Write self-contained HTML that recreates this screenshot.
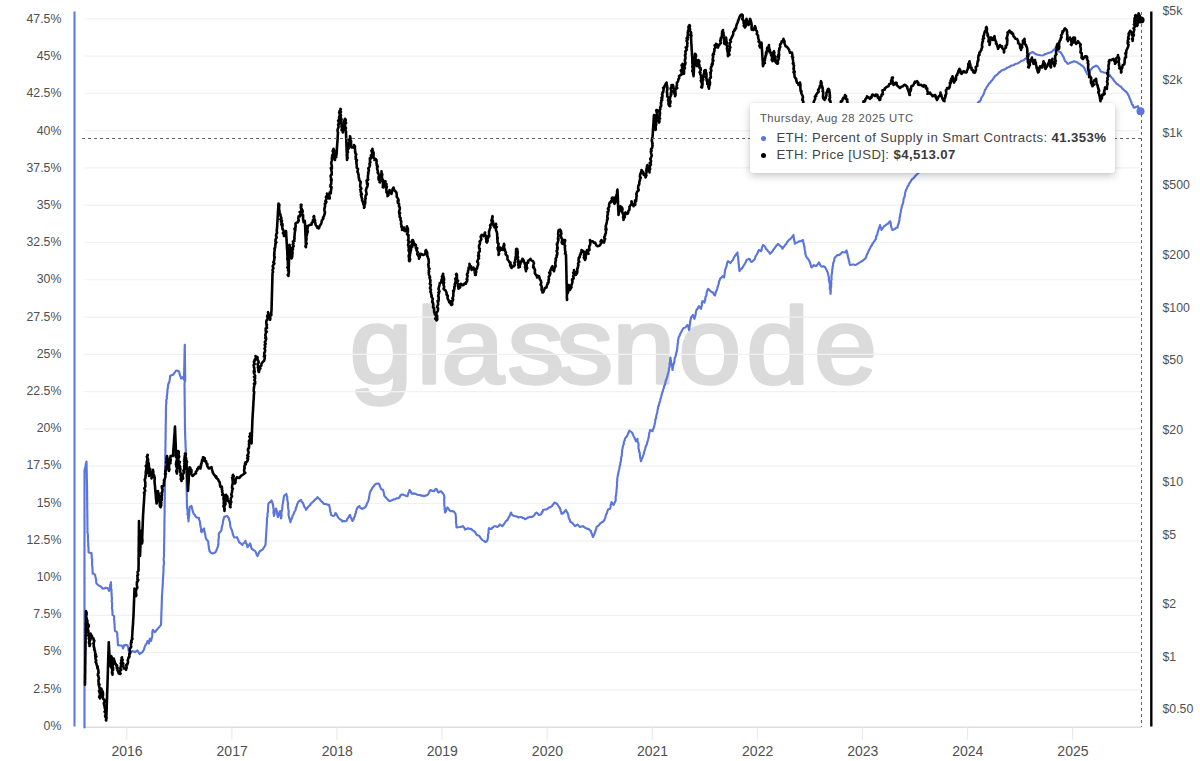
<!DOCTYPE html>
<html lang="en"><head><meta charset="utf-8"><title>ETH: Percent of Supply in Smart Contracts</title>
<style>
html,body{margin:0;padding:0;background:#fff;}
body{width:1200px;height:761px;position:relative;overflow:hidden;font-family:"Liberation Sans",sans-serif;}
svg text.ax{font-family:"Liberation Sans",sans-serif;font-size:12.3px;fill:#4f4f4f;}
.tip{position:absolute;left:750px;top:102.5px;width:364.8px;height:70.5px;background:#fff;border-radius:3px;
 box-shadow:0 3px 9px rgba(0,0,0,.22),0 0 2px rgba(0,0,0,.08);box-sizing:border-box;color:#444;}
.tip .d{position:absolute;left:10px;top:9.5px;font-size:11.3px;line-height:13px;color:#555;white-space:nowrap;letter-spacing:.45px;}
.tip .r{position:absolute;left:26.4px;font-size:13.2px;line-height:16px;white-space:nowrap;color:#444;letter-spacing:.4px;}
.tip .r b{font-weight:700;color:#3a3a3a;}
.tip .r1{top:27.2px;} .tip .r2{top:44.3px;}
.tip i{position:absolute;left:10.5px;width:5px;height:5px;border-radius:50%;}
.tip i.b1{top:33px;background:#5a75dc;} .tip i.b2{top:50.5px;background:#000;}
</style></head><body>
<svg width="1200" height="761" viewBox="0 0 1200 761" style="position:absolute;left:0;top:0">
<text transform="scale(1.05,1)" x="333.0 396.9 420.4 483.6 530.2 583.3 646.1 711.0 775.6" y="383.3" font-family="Liberation Sans, sans-serif" font-weight="400" font-size="107" fill="#dbdbdb" stroke="#dbdbdb" stroke-width="3.6" stroke-linejoin="round">glassnode</text>
<line x1="84.5" x2="1141.0" y1="727.25" y2="727.25" stroke="#f1f1f1" stroke-width="1.2"/>
<line x1="84.5" x2="1141.0" y1="689.96" y2="689.96" stroke="#f1f1f1" stroke-width="1.2"/>
<line x1="84.5" x2="1141.0" y1="652.67" y2="652.67" stroke="#f1f1f1" stroke-width="1.2"/>
<line x1="84.5" x2="1141.0" y1="615.38" y2="615.38" stroke="#f1f1f1" stroke-width="1.2"/>
<line x1="84.5" x2="1141.0" y1="578.09" y2="578.09" stroke="#f1f1f1" stroke-width="1.2"/>
<line x1="84.5" x2="1141.0" y1="540.80" y2="540.80" stroke="#f1f1f1" stroke-width="1.2"/>
<line x1="84.5" x2="1141.0" y1="503.51" y2="503.51" stroke="#f1f1f1" stroke-width="1.2"/>
<line x1="84.5" x2="1141.0" y1="466.22" y2="466.22" stroke="#f1f1f1" stroke-width="1.2"/>
<line x1="84.5" x2="1141.0" y1="428.93" y2="428.93" stroke="#f1f1f1" stroke-width="1.2"/>
<line x1="84.5" x2="1141.0" y1="391.64" y2="391.64" stroke="#f1f1f1" stroke-width="1.2"/>
<line x1="84.5" x2="1141.0" y1="354.35" y2="354.35" stroke="#f1f1f1" stroke-width="1.2"/>
<line x1="84.5" x2="1141.0" y1="317.06" y2="317.06" stroke="#f1f1f1" stroke-width="1.2"/>
<line x1="84.5" x2="1141.0" y1="279.77" y2="279.77" stroke="#f1f1f1" stroke-width="1.2"/>
<line x1="84.5" x2="1141.0" y1="242.48" y2="242.48" stroke="#f1f1f1" stroke-width="1.2"/>
<line x1="84.5" x2="1141.0" y1="205.19" y2="205.19" stroke="#f1f1f1" stroke-width="1.2"/>
<line x1="84.5" x2="1141.0" y1="167.90" y2="167.90" stroke="#f1f1f1" stroke-width="1.2"/>
<line x1="84.5" x2="1141.0" y1="130.61" y2="130.61" stroke="#f1f1f1" stroke-width="1.2"/>
<line x1="84.5" x2="1141.0" y1="93.32" y2="93.32" stroke="#f1f1f1" stroke-width="1.2"/>
<line x1="84.5" x2="1141.0" y1="56.03" y2="56.03" stroke="#f1f1f1" stroke-width="1.2"/>
<line x1="84.5" x2="1141.0" y1="18.74" y2="18.74" stroke="#f1f1f1" stroke-width="1.2"/>
<line x1="84.5" x2="1141.0" y1="727.25" y2="727.25" stroke="#dedede" stroke-width="1.5"/>
<line x1="126.75" x2="126.75" y1="727.25" y2="739.75" stroke="#ebebeb" stroke-width="1.2"/>
<text x="127.05" y="756" text-anchor="middle" class="ax" style="font-size:14px">2016</text>
<line x1="231.85" x2="231.85" y1="727.25" y2="739.75" stroke="#ebebeb" stroke-width="1.2"/>
<text x="232.15" y="756" text-anchor="middle" class="ax" style="font-size:14px">2017</text>
<line x1="336.95" x2="336.95" y1="727.25" y2="739.75" stroke="#ebebeb" stroke-width="1.2"/>
<text x="337.25" y="756" text-anchor="middle" class="ax" style="font-size:14px">2018</text>
<line x1="442.05" x2="442.05" y1="727.25" y2="739.75" stroke="#ebebeb" stroke-width="1.2"/>
<text x="442.35" y="756" text-anchor="middle" class="ax" style="font-size:14px">2019</text>
<line x1="547.15" x2="547.15" y1="727.25" y2="739.75" stroke="#ebebeb" stroke-width="1.2"/>
<text x="547.45" y="756" text-anchor="middle" class="ax" style="font-size:14px">2020</text>
<line x1="652.25" x2="652.25" y1="727.25" y2="739.75" stroke="#ebebeb" stroke-width="1.2"/>
<text x="652.55" y="756" text-anchor="middle" class="ax" style="font-size:14px">2021</text>
<line x1="757.35" x2="757.35" y1="727.25" y2="739.75" stroke="#ebebeb" stroke-width="1.2"/>
<text x="757.65" y="756" text-anchor="middle" class="ax" style="font-size:14px">2022</text>
<line x1="862.45" x2="862.45" y1="727.25" y2="739.75" stroke="#ebebeb" stroke-width="1.2"/>
<text x="862.75" y="756" text-anchor="middle" class="ax" style="font-size:14px">2023</text>
<line x1="967.55" x2="967.55" y1="727.25" y2="739.75" stroke="#ebebeb" stroke-width="1.2"/>
<text x="967.85" y="756" text-anchor="middle" class="ax" style="font-size:14px">2024</text>
<line x1="1072.65" x2="1072.65" y1="727.25" y2="739.75" stroke="#ebebeb" stroke-width="1.2"/>
<text x="1072.95" y="756" text-anchor="middle" class="ax" style="font-size:14px">2025</text>
<line x1="74.5" x2="74.5" y1="11.5" y2="726.5" stroke="#5a75dc" stroke-width="2"/>
<text x="61.4" y="729.80" text-anchor="end" class="ax">0%</text>
<text x="61.4" y="692.60" text-anchor="end" class="ax">2.5%</text>
<text x="61.4" y="655.40" text-anchor="end" class="ax">5%</text>
<text x="61.4" y="618.20" text-anchor="end" class="ax">7.5%</text>
<text x="61.4" y="581.00" text-anchor="end" class="ax">10%</text>
<text x="61.4" y="543.80" text-anchor="end" class="ax">12.5%</text>
<text x="61.4" y="506.60" text-anchor="end" class="ax">15%</text>
<text x="61.4" y="469.40" text-anchor="end" class="ax">17.5%</text>
<text x="61.4" y="432.20" text-anchor="end" class="ax">20%</text>
<text x="61.4" y="395.00" text-anchor="end" class="ax">22.5%</text>
<text x="61.4" y="357.80" text-anchor="end" class="ax">25%</text>
<text x="61.4" y="320.60" text-anchor="end" class="ax">27.5%</text>
<text x="61.4" y="283.40" text-anchor="end" class="ax">30%</text>
<text x="61.4" y="246.20" text-anchor="end" class="ax">32.5%</text>
<text x="61.4" y="209.00" text-anchor="end" class="ax">35%</text>
<text x="61.4" y="171.80" text-anchor="end" class="ax">37.5%</text>
<text x="61.4" y="134.60" text-anchor="end" class="ax">40%</text>
<text x="61.4" y="97.40" text-anchor="end" class="ax">42.5%</text>
<text x="61.4" y="60.20" text-anchor="end" class="ax">45%</text>
<text x="61.4" y="23.00" text-anchor="end" class="ax">47.5%</text>
<line x1="1151.3" x2="1151.3" y1="11.5" y2="726.5" stroke="#000" stroke-width="2.4"/>
<text x="1162.5" y="14.86" class="ax">$5k</text>
<text x="1162.5" y="84.34" class="ax">$2k</text>
<text x="1162.5" y="136.90" class="ax">$1k</text>
<text x="1162.5" y="189.46" class="ax">$500</text>
<text x="1162.5" y="258.94" class="ax">$200</text>
<text x="1162.5" y="311.50" class="ax">$100</text>
<text x="1162.5" y="364.06" class="ax">$50</text>
<text x="1162.5" y="433.54" class="ax">$20</text>
<text x="1162.5" y="486.10" class="ax">$10</text>
<text x="1162.5" y="538.66" class="ax">$5</text>
<text x="1162.5" y="608.14" class="ax">$2</text>
<text x="1162.5" y="660.70" class="ax">$1</text>
<text x="1162.5" y="713.26" class="ax">$0.50</text>
<path d="M84.5,727.5 L84.5,725.9 L84.5,724.3 L84.5,722.7 L84.5,721.1 L84.5,719.5 L84.5,717.9 L84.5,716.3 L84.5,714.7 L84.5,713.1 L84.5,711.5 L84.5,709.9 L84.5,708.3 L84.5,706.7 L84.5,705.1 L84.5,703.5 L84.5,701.9 L84.5,700.2 L84.5,698.6 L84.5,697.0 L84.5,695.4 L84.5,693.8 L84.5,692.2 L84.5,690.6 L84.5,689.0 L84.5,687.4 L84.5,685.8 L84.5,684.2 L84.5,682.6 L84.5,681.0 L84.5,679.4 L84.5,677.8 L84.5,676.2 L84.5,674.6 L84.5,673.0 L84.5,671.4 L84.5,669.8 L84.5,668.2 L84.5,666.6 L84.5,665.0 L84.5,663.4 L84.5,661.8 L84.5,660.2 L84.5,658.6 L84.5,657.0 L84.5,655.4 L84.5,653.8 L84.5,652.2 L84.5,650.5 L84.5,648.9 L84.5,647.3 L84.5,645.7 L84.5,644.1 L84.5,642.5 L84.5,640.9 L84.5,639.3 L84.5,637.7 L84.5,636.1 L84.5,634.5 L84.5,632.9 L84.5,631.3 L84.5,629.7 L84.5,628.1 L84.5,626.5 L84.5,624.9 L84.5,623.3 L84.5,621.7 L84.5,620.1 L84.5,618.5 L84.5,616.9 L84.5,615.3 L84.5,613.7 L84.5,612.1 L84.5,610.5 L84.5,608.9 L84.5,607.3 L84.5,605.7 L84.5,604.1 L84.5,602.5 L84.5,600.9 L84.5,599.2 L84.5,597.6 L84.5,596.0 L84.5,594.4 L84.5,592.8 L84.5,591.2 L84.5,589.6 L84.5,588.0 L84.5,586.4 L84.5,584.8 L84.5,583.2 L84.5,581.6 L84.5,580.0 L84.5,578.4 L84.5,576.8 L84.5,575.2 L84.5,573.6 L84.5,572.0 L84.5,570.4 L84.5,568.8 L84.5,567.2 L84.5,565.6 L84.5,564.0 L84.5,562.4 L84.5,560.8 L84.5,559.2 L84.5,557.6 L84.5,556.0 L84.5,554.4 L84.5,552.8 L84.5,551.2 L84.5,549.6 L84.5,548.0 L84.5,546.3 L84.5,544.7 L84.5,543.1 L84.5,541.5 L84.5,539.9 L84.5,538.3 L84.5,536.7 L84.5,535.1 L84.5,533.5 L84.5,531.9 L84.5,530.3 L84.5,528.7 L84.5,527.1 L84.5,525.5 L84.5,523.9 L84.5,522.3 L84.5,520.7 L84.5,519.1 L84.5,517.5 L84.5,515.9 L84.5,514.3 L84.5,512.7 L84.5,511.1 L84.5,509.5 L84.5,507.9 L84.5,506.3 L84.5,504.7 L84.5,503.1 L84.5,501.5 L84.5,499.9 L84.5,498.3 L84.5,496.6 L84.5,495.0 L84.5,493.4 L84.5,491.8 L84.5,490.2 L84.5,488.6 L84.5,487.0 L84.5,485.4 L84.5,483.8 L84.5,482.2 L84.5,480.6 L84.5,479.0 L84.5,477.4 L84.5,475.8 L84.5,474.2 L84.5,472.6 L84.5,471.0 L84.7,469.4 L85.1,467.8 L85.5,466.0 L85.9,464.1 L85.9,463.3 L86.5,461.5 L86.5,463.1 L86.6,464.8 L86.6,466.4 L86.6,468.0 L86.7,469.7 L86.7,471.3 L86.7,472.9 L86.8,474.6 L86.8,476.2 L86.8,477.8 L86.9,479.5 L86.9,481.1 L86.9,482.7 L87.0,484.4 L87.0,486.0 L87.0,487.6 L87.0,489.2 L87.1,490.8 L87.1,492.4 L87.1,494.0 L87.1,495.6 L87.1,497.2 L87.1,498.9 L87.2,500.5 L87.2,502.1 L87.2,503.7 L87.2,505.3 L87.2,506.9 L87.2,508.5 L87.3,510.1 L87.3,511.7 L87.3,513.3 L87.3,514.9 L87.3,516.5 L87.4,518.1 L87.4,519.8 L87.4,521.4 L87.4,523.0 L87.4,524.6 L87.4,526.2 L87.5,527.8 L87.5,529.4 L87.5,531.0 L87.4,532.4 L87.9,534.2 L87.9,535.9 L87.9,537.2 L88.0,539.5 L88.0,541.0 L88.1,542.0 L88.3,544.2 L88.1,545.3 L88.5,547.3 L88.5,549.3 L88.5,551.0 L88.5,552.2 L89.9,552.9 L91.5,553.0 L91.6,555.1 L91.9,556.0 L91.6,557.8 L92.2,559.6 L92.1,561.2 L92.1,562.9 L92.1,564.8 L92.3,566.8 L92.5,568.5 L92.5,569.8 L92.7,572.1 L92.5,573.5 L93.8,573.8 L95.0,574.8 L95.4,576.6 L95.7,577.7 L95.9,578.9 L96.2,580.6 L96.1,581.6 L96.5,583.5 L97.9,584.8 L98.6,585.4 L100.0,586.0 L101.2,586.9 L102.5,588.5 L104.1,588.6 L106.0,587.8 L107.5,588.0 L108.3,589.1 L109.0,591.0 L109.5,589.4 L109.9,588.5 L110.0,587.1 L110.2,584.8 L110.7,583.3 L111.0,582.2 L110.9,583.8 L111.2,585.2 L111.0,587.4 L111.2,589.1 L111.6,590.2 L111.4,591.9 L111.5,593.5 L111.7,595.2 L111.7,596.9 L112.0,598.4 L111.8,600.2 L111.7,601.5 L112.2,603.3 L112.1,604.5 L112.1,606.6 L111.9,608.3 L112.3,609.5 L112.4,611.5 L112.5,613.0 L112.5,614.8 L114.0,616.0 L114.2,617.9 L114.0,618.9 L114.4,621.4 L114.3,622.6 L114.6,624.2 L114.6,625.8 L114.7,627.8 L114.8,629.2 L115.0,631.0 L117.0,632.2 L117.3,633.4 L117.3,635.7 L117.3,636.9 L117.7,638.5 L117.5,640.3 L117.9,641.6 L117.8,643.5 L118.0,645.2 L119.7,645.4 L121.2,645.5 L122.5,646.0 L122.7,647.4 L123.0,648.5 L123.7,646.8 L124.0,645.2 L125.6,644.9 L127.5,645.2 L127.9,646.6 L128.5,648.9 L128.5,650.0 L129.3,652.0 L129.5,653.5 L131.2,652.1 L132.5,651.0 L133.6,651.4 L135.0,652.2 L136.4,651.2 L137.5,650.5 L138.1,651.6 L138.8,652.8 L139.5,654.0 L141.2,652.8 L142.5,652.2 L142.9,651.1 L144.0,649.6 L144.3,648.0 L145.0,646.0 L146.1,644.1 L146.8,643.0 L147.5,641.0 L148.3,642.3 L149.0,643.5 L149.2,641.7 L149.5,639.8 L150.0,638.5 L150.5,639.6 L151.0,641.0 L151.5,639.0 L151.8,638.0 L152.1,636.5 L152.4,634.6 L152.2,633.2 L152.5,631.2 L153.0,629.8 L153.8,631.0 L154.5,632.2 L155.5,631.6 L156.6,629.9 L157.5,629.0 L158.5,627.9 L159.8,626.4 L161.0,624.8 L161.1,623.2 L161.1,621.6 L161.2,620.0 L161.2,618.4 L161.3,616.8 L161.3,615.2 L161.4,613.6 L161.4,612.0 L161.5,610.4 L161.6,608.8 L161.6,607.2 L161.7,605.6 L161.7,604.0 L161.8,602.4 L161.8,600.8 L161.9,599.2 L161.9,597.6 L162.0,596.0 L162.1,594.4 L162.2,592.9 L162.3,591.3 L162.4,589.8 L162.5,588.2 L162.6,586.6 L162.7,585.1 L162.8,583.5 L162.8,581.9 L162.9,580.4 L163.0,578.8 L163.1,577.2 L163.2,575.7 L163.3,574.1 L163.4,572.6 L163.5,571.0 L163.5,569.1 L163.6,568.0 L163.5,566.3 L163.9,564.6 L164.0,562.2 L163.9,561.3 L163.6,559.1 L163.8,557.7 L164.0,556.0 L164.0,554.4 L164.0,552.8 L164.1,551.2 L164.1,549.6 L164.1,548.0 L164.1,546.4 L164.1,544.8 L164.2,543.2 L164.2,541.6 L164.2,540.0 L164.2,538.4 L164.3,536.9 L164.3,535.3 L164.3,533.7 L164.3,532.1 L164.3,530.5 L164.4,528.9 L164.4,527.3 L164.4,525.7 L164.4,524.1 L164.4,522.5 L164.5,520.9 L164.5,519.3 L164.5,517.7 L164.5,516.1 L164.6,514.5 L164.6,512.9 L164.6,511.3 L164.6,509.7 L164.6,508.1 L164.7,506.5 L164.7,504.9 L164.7,503.3 L164.7,501.7 L164.7,500.1 L164.8,498.6 L164.8,497.0 L164.8,495.4 L164.8,493.8 L164.9,492.2 L164.9,490.6 L164.9,489.0 L164.9,487.4 L164.9,485.8 L165.0,484.2 L165.0,482.6 L165.0,481.0 L165.0,479.4 L165.0,477.8 L165.1,476.2 L165.1,474.6 L165.1,473.0 L165.1,471.4 L165.1,469.8 L165.2,468.2 L165.2,466.6 L165.2,465.0 L165.2,463.4 L165.3,461.9 L165.3,460.3 L165.3,458.7 L165.3,457.1 L165.3,455.5 L165.4,453.9 L165.4,452.3 L165.4,450.7 L165.4,449.1 L165.4,447.5 L165.5,445.9 L165.5,444.3 L165.5,442.7 L165.5,441.1 L165.6,439.5 L165.6,437.9 L165.6,436.3 L165.6,434.7 L165.6,433.1 L165.7,431.5 L165.7,429.9 L165.7,428.3 L165.7,426.7 L165.7,425.1 L165.8,423.6 L165.8,422.0 L165.8,420.4 L165.8,418.8 L165.9,417.2 L165.9,415.6 L165.9,414.0 L165.9,412.4 L165.9,410.8 L166.0,409.2 L166.0,407.6 L166.0,406.0 L166.1,404.4 L166.5,402.5 L166.2,401.0 L166.4,399.5 L167.0,398.6 L166.7,396.8 L167.0,395.1 L167.2,393.8 L167.4,392.0 L167.4,390.5 L167.5,389.1 L168.0,387.4 L168.0,386.0 L168.3,384.0 L168.9,382.8 L169.5,381.0 L169.8,379.2 L170.0,377.8 L170.0,376.0 L171.5,375.3 L173.0,374.8 L174.0,373.5 L175.0,372.1 L176.0,370.5 L177.5,370.8 L179.0,371.5 L179.4,373.1 L179.6,374.2 L180.2,376.0 L180.8,377.0 L181.0,378.5 L182.5,377.2 L183.5,378.8 L184.0,379.8 L184.0,378.2 L184.1,376.6 L184.1,375.0 L184.1,373.4 L184.2,371.8 L184.2,370.2 L184.2,368.6 L184.3,367.0 L184.3,365.4 L184.3,363.8 L184.4,362.2 L184.4,360.7 L184.4,359.1 L184.5,357.5 L184.5,355.9 L184.5,354.3 L184.6,352.7 L184.6,351.1 L184.6,349.5 L184.7,347.9 L184.7,346.3 L184.8,344.8 L184.8,346.3 L184.8,347.9 L184.8,349.5 L184.8,351.1 L184.9,352.6 L184.9,354.2 L184.9,355.8 L184.9,357.4 L184.9,358.9 L185.0,360.5 L185.0,362.1 L185.0,363.7 L185.0,365.2 L185.1,366.8 L185.1,368.4 L185.1,370.0 L185.1,371.5 L185.1,373.1 L185.2,374.7 L185.2,376.3 L185.2,377.8 L185.2,379.4 L185.2,381.0 L184.7,382.2 L184.5,383.5 L184.5,385.1 L184.5,386.7 L184.6,388.2 L184.6,389.8 L184.6,391.4 L184.6,393.0 L184.6,394.6 L184.6,396.2 L184.7,397.8 L184.7,399.3 L184.7,400.9 L184.7,402.5 L184.7,404.1 L184.7,405.7 L184.8,407.2 L184.8,408.8 L184.8,410.4 L184.8,412.0 L184.8,413.6 L184.8,415.2 L184.8,416.8 L184.9,418.3 L184.9,419.9 L184.9,421.5 L184.9,423.1 L184.9,424.7 L184.9,426.2 L185.0,427.8 L185.0,429.4 L185.0,431.0 L185.1,432.6 L185.1,434.1 L185.2,435.7 L185.2,437.2 L185.3,438.8 L185.4,440.4 L185.4,441.9 L185.5,443.5 L185.6,445.1 L185.6,446.6 L185.7,448.2 L185.8,449.8 L185.8,451.3 L185.9,452.9 L185.9,454.4 L186.0,456.0 L186.0,457.6 L186.1,459.2 L186.1,460.8 L186.1,462.5 L186.2,464.1 L186.2,465.7 L186.2,467.3 L186.3,468.9 L186.3,470.5 L186.3,472.1 L186.4,473.7 L186.4,475.4 L186.4,477.0 L186.5,478.6 L186.5,480.2 L186.5,481.8 L186.5,483.4 L186.6,485.0 L186.6,486.6 L186.6,488.3 L186.7,489.9 L186.7,491.5 L186.7,493.1 L186.8,494.7 L186.8,496.3 L186.8,497.9 L186.9,499.5 L186.9,501.2 L186.9,502.8 L187.0,504.4 L187.0,506.0 L186.9,507.8 L187.4,509.4 L187.6,510.8 L187.7,512.3 L187.5,513.8 L187.6,515.0 L188.2,516.4 L188.0,518.0 L188.6,519.7 L188.5,521.5 L188.4,520.2 L188.5,518.6 L188.9,517.1 L189.2,515.2 L189.2,513.2 L189.3,512.0 L189.4,510.1 L189.5,509.2 L189.5,507.2 L191.5,506.0 L191.7,507.3 L192.3,509.3 L192.6,510.2 L193.0,512.1 L193.5,513.5 L194.6,514.7 L195.3,515.9 L196.2,517.2 L197.5,517.6 L199.0,518.0 L199.1,519.6 L199.8,521.1 L200.0,522.4 L200.2,524.6 L200.5,525.9 L200.7,527.6 L201.2,528.8 L201.0,530.9 L201.5,532.2 L202.6,531.0 L203.1,529.9 L204.0,528.5 L204.2,530.0 L204.5,531.9 L204.9,533.3 L205.4,535.6 L205.6,537.0 L206.0,538.5 L207.0,540.1 L208.0,541.0 L208.3,542.5 L208.3,543.9 L208.7,545.9 L208.8,547.5 L209.2,549.6 L209.5,551.0 L210.8,552.7 L212.5,553.5 L214.0,553.0 L215.5,552.2 L216.1,551.0 L216.9,549.2 L217.4,547.8 L218.0,546.0 L218.3,544.3 L218.4,543.3 L218.4,541.1 L218.4,539.9 L218.7,538.6 L218.9,536.4 L218.7,534.8 L219.0,533.5 L219.8,532.4 L221.0,531.0 L221.6,529.8 L221.6,528.2 L222.0,526.2 L222.5,524.8 L222.9,522.9 L222.9,522.1 L223.3,520.1 L223.7,518.9 L224.0,517.2 L225.2,516.5 L227.0,516.0 L228.0,517.2 L229.0,518.5 L229.2,520.2 L229.9,521.7 L230.0,523.2 L230.2,525.3 L230.5,527.2 L231.0,528.5 L231.7,529.6 L232.2,531.3 L232.6,533.1 L232.9,534.5 L233.6,536.1 L234.0,537.2 L235.4,537.5 L237.0,537.2 L237.9,539.1 L238.4,540.2 L239.0,542.2 L240.2,543.0 L241.5,544.1 L242.5,544.8 L243.5,543.2 L244.6,542.4 L245.5,541.0 L245.8,542.9 L246.6,543.8 L247.2,545.4 L247.5,547.2 L248.2,546.2 L249.2,544.8 L250.0,543.5 L250.6,544.8 L250.9,546.0 L251.3,547.8 L252.0,549.0 L253.6,550.0 L255.0,551.0 L256.0,552.5 L256.5,554.2 L257.5,556.0 L258.5,553.9 L259.2,552.4 L260.0,551.0 L261.4,550.2 L262.5,549.8 L263.2,548.4 L264.0,547.5 L264.7,546.3 L265.5,544.8 L265.6,543.2 L265.7,541.6 L265.8,540.0 L265.9,538.4 L266.0,536.8 L266.1,535.2 L266.2,533.7 L266.3,532.1 L266.4,530.5 L266.5,528.9 L266.6,527.3 L266.7,525.8 L266.8,524.2 L266.9,522.6 L267.0,521.0 L266.9,519.2 L267.1,517.5 L267.6,516.4 L267.4,514.4 L267.6,513.3 L268.0,511.7 L268.0,509.5 L268.0,508.0 L268.2,506.7 L268.2,504.9 L268.5,503.5 L269.7,502.1 L270.7,501.9 L271.5,500.5 L272.2,501.8 L272.5,503.4 L273.0,504.8 L273.2,506.8 L273.4,507.8 L273.6,509.6 L273.6,511.4 L273.4,513.0 L273.9,514.4 L274.0,516.0 L274.4,514.5 L274.6,513.0 L275.0,511.5 L275.7,509.9 L276.0,508.5 L276.4,510.4 L276.9,511.1 L277.2,513.0 L277.1,514.2 L277.5,515.4 L278.0,517.2 L278.5,516.1 L278.9,514.5 L279.6,512.2 L280.0,511.0 L280.4,512.6 L280.6,514.2 L280.7,515.4 L281.0,517.4 L281.0,518.5 L281.4,516.9 L281.5,515.4 L281.4,513.4 L281.5,512.0 L281.8,510.7 L282.2,509.2 L282.3,507.7 L282.5,506.0 L282.6,504.3 L283.1,502.6 L283.1,501.4 L283.6,499.2 L283.7,497.7 L284.0,496.0 L285.3,494.8 L286.5,494.0 L286.5,495.3 L287.2,496.8 L287.2,498.5 L287.3,500.0 L287.7,501.6 L288.0,503.5 L287.9,504.7 L288.0,506.5 L288.1,507.7 L288.4,509.5 L288.7,510.7 L288.6,512.6 L288.5,514.6 L288.7,515.4 L289.0,517.2 L289.5,518.6 L290.1,520.4 L290.5,522.2 L290.8,520.3 L291.6,518.9 L292.2,517.5 L292.5,516.0 L293.6,514.2 L294.0,512.5 L295.0,511.0 L295.7,509.6 L295.9,507.6 L296.6,506.9 L297.0,504.6 L297.5,503.5 L298.4,501.9 L299.7,500.6 L301.0,499.8 L301.5,501.5 L302.7,502.6 L303.5,504.4 L304.0,506.0 L304.8,507.6 L305.6,508.1 L306.0,509.8 L306.9,508.6 L308.2,506.9 L309.0,506.0 L310.1,505.1 L311.1,503.4 L312.5,502.2 L313.7,501.2 L315.2,499.5 L316.4,498.7 L317.5,497.2 L318.8,498.5 L320.1,499.6 L321.0,501.0 L322.0,501.8 L323.2,503.0 L324.0,504.0 L325.5,504.0 L327.5,504.6 L329.0,504.8 L329.4,506.3 L329.7,507.8 L330.1,509.3 L330.3,511.6 L330.8,512.7 L331.0,514.8 L332.4,515.7 L334.0,516.0 L334.8,514.8 L335.5,513.0 L336.5,514.2 L337.2,515.7 L337.7,516.6 L338.5,518.0 L339.6,519.1 L341.4,520.0 L342.5,521.5 L343.9,521.0 L344.9,521.3 L346.5,521.0 L347.2,519.0 L348.1,518.0 L349.2,515.9 L350.0,514.8 L350.5,516.7 L351.1,517.9 L351.8,519.7 L352.5,521.0 L353.4,519.6 L354.2,517.4 L355.0,516.0 L355.2,514.1 L356.0,512.7 L355.9,511.9 L356.4,510.4 L357.0,508.5 L358.0,507.2 L359.5,506.0 L360.0,507.5 L361.1,508.4 L362.5,508.8 L363.7,508.0 L365.0,507.4 L366.0,506.2 L366.5,504.8 L367.2,502.8 L368.1,501.6 L368.5,500.0 L369.0,498.2 L369.1,497.0 L369.5,495.1 L369.6,494.0 L370.0,492.5 L370.6,490.9 L371.8,489.1 L372.5,487.5 L373.7,486.3 L374.7,484.9 L376.0,483.8 L377.8,483.6 L379.0,483.8 L379.6,485.0 L380.2,486.8 L381.0,488.8 L383.0,490.0 L383.6,491.8 L384.0,493.6 L384.2,495.1 L384.5,496.2 L385.8,497.4 L387.0,498.8 L388.5,500.4 L389.5,501.2 L391.2,500.6 L392.5,500.0 L394.0,499.3 L395.4,499.2 L396.5,498.2 L397.9,498.3 L399.5,497.5 L400.3,495.6 L401.5,494.5 L402.9,494.6 L404.0,495.0 L405.8,495.8 L407.5,496.2 L407.8,494.9 L408.4,493.1 L408.9,491.8 L409.5,490.0 L410.5,491.1 L411.0,492.3 L412.0,493.8 L413.7,493.4 L415.5,493.8 L416.8,494.4 L418.6,495.0 L420.0,495.0 L421.6,495.8 L422.6,495.5 L424.0,496.2 L425.6,495.6 L427.5,495.0 L428.3,493.8 L428.9,492.8 L429.6,491.2 L430.5,490.0 L432.5,490.9 L434.0,491.2 L434.9,489.8 L436.0,488.8 L437.0,489.6 L437.5,491.3 L438.5,492.5 L439.8,491.6 L441.0,491.2 L441.8,492.2 L443.1,493.7 L444.0,495.0 L444.3,496.8 L444.4,497.8 L444.1,499.3 L444.3,501.2 L444.2,503.0 L444.3,504.4 L444.5,506.4 L444.7,507.5 L444.6,509.3 L445.0,511.1 L445.0,512.5 L446.1,511.1 L446.5,508.8 L447.5,507.5 L448.6,509.0 L449.5,510.3 L450.5,511.2 L452.0,511.1 L453.5,511.2 L454.3,512.1 L455.5,513.8 L455.7,515.6 L455.9,516.8 L455.9,518.7 L456.1,520.0 L456.0,521.4 L456.0,522.6 L456.4,524.9 L456.4,525.9 L456.5,527.5 L458.2,527.2 L460.0,527.0 L461.7,526.6 L463.0,526.2 L464.2,527.6 L465.0,529.5 L466.4,528.9 L468.0,528.2 L469.5,528.8 L471.0,528.8 L472.7,530.4 L474.0,531.2 L475.1,532.1 L476.0,533.8 L477.0,535.0 L478.2,535.4 L479.5,536.2 L480.6,537.9 L481.3,538.9 L482.5,540.0 L483.9,541.0 L485.5,542.0 L486.7,541.4 L487.5,540.0 L487.8,538.2 L488.1,536.7 L488.0,535.8 L488.2,533.8 L488.7,532.9 L488.5,530.9 L488.7,529.2 L489.0,528.0 L490.1,528.8 L491.5,528.8 L492.8,527.3 L494.5,526.2 L495.8,526.2 L497.5,527.0 L498.8,526.0 L500.0,524.5 L501.4,525.5 L502.5,526.2 L503.5,524.6 L504.0,524.2 L505.0,522.5 L506.0,521.0 L507.5,520.0 L508.2,518.5 L508.9,517.1 L509.5,516.2 L509.9,515.4 L510.3,514.1 L511.0,512.5 L511.8,514.4 L513.0,515.5 L514.3,516.0 L515.5,516.2 L516.8,516.5 L518.5,517.5 L520.1,517.0 L521.5,517.0 L522.5,518.0 L524.0,518.1 L525.0,519.2 L526.7,518.4 L528.0,517.5 L529.7,516.9 L531.5,517.0 L532.9,516.4 L534.5,515.0 L535.4,513.4 L536.5,512.5 L537.6,513.4 L539.0,515.0 L540.2,514.7 L541.5,513.8 L541.8,512.2 L542.7,511.7 L543.0,510.0 L544.8,509.5 L546.0,509.5 L547.4,508.9 L549.0,507.5 L550.5,507.1 L552.0,506.2 L552.7,504.6 L553.6,504.0 L554.5,502.5 L555.9,503.2 L557.0,503.8 L557.8,505.0 L558.6,506.3 L559.5,507.5 L560.2,508.8 L560.6,511.0 L561.2,511.9 L561.5,513.8 L563.0,513.4 L564.0,512.5 L564.8,511.0 L566.0,510.0 L566.5,511.2 L567.5,513.0 L568.1,514.3 L568.5,516.2 L568.7,518.0 L569.7,519.6 L570.1,520.6 L570.5,522.0 L571.9,522.5 L573.0,523.8 L574.0,524.9 L575.0,526.2 L576.1,525.5 L577.5,524.5 L578.7,525.8 L580.0,527.0 L581.4,526.5 L583.0,526.2 L584.2,527.2 L585.5,528.0 L587.3,528.8 L588.5,528.8 L589.9,530.3 L591.0,531.2 L591.4,533.1 L591.9,533.8 L592.5,535.8 L593.0,537.0 L593.6,535.6 L594.2,534.4 L595.0,532.5 L595.3,531.1 L595.8,530.1 L596.4,528.4 L596.5,527.0 L597.7,526.1 L599.0,525.0 L600.0,523.7 L601.5,522.5 L603.2,521.5 L604.5,520.0 L604.8,518.8 L605.4,517.3 L605.9,515.1 L606.5,513.8 L607.0,512.7 L607.5,511.2 L608.0,509.5 L610.0,508.8 L610.5,506.9 L610.6,505.4 L611.1,503.6 L611.5,502.0 L612.6,503.8 L613.5,505.0 L614.2,503.4 L614.7,502.4 L615.5,501.2 L615.7,499.3 L615.6,497.9 L615.8,496.0 L616.1,495.2 L616.2,493.4 L616.5,491.9 L616.5,490.0 L616.8,488.4 L616.8,486.5 L617.1,485.2 L617.0,484.1 L617.0,481.9 L617.4,480.7 L617.2,478.6 L617.5,477.5 L617.8,475.4 L618.3,473.9 L618.4,472.4 L618.8,470.8 L619.2,469.3 L619.5,467.5 L619.8,465.6 L620.4,464.7 L620.2,462.9 L620.8,461.9 L621.0,460.0 L621.0,458.0 L621.4,456.7 L621.9,455.5 L621.8,453.5 L622.1,452.3 L622.1,450.3 L622.5,448.8 L622.7,447.2 L623.1,445.8 L623.8,443.8 L623.9,441.8 L624.6,440.7 L625.0,438.8 L625.9,437.3 L626.9,436.4 L627.5,435.0 L628.2,433.2 L628.7,432.4 L629.5,430.5 L630.6,431.5 L632.0,432.5 L632.7,433.9 L633.5,435.9 L634.0,437.0 L634.9,438.6 L635.2,439.4 L636.0,441.2 L636.7,439.8 L637.5,438.8 L637.5,440.7 L637.8,442.3 L638.4,443.2 L638.6,445.1 L638.4,446.5 L638.5,448.4 L639.0,450.0 L639.2,451.9 L639.8,452.8 L639.8,454.7 L640.0,456.2 L640.3,458.2 L640.6,459.3 L641.0,461.2 L641.5,459.5 L642.4,457.7 L643.0,456.2 L643.5,454.5 L643.9,453.4 L644.1,452.1 L644.6,450.5 L645.1,449.1 L645.5,447.5 L646.0,445.6 L646.7,444.8 L647.0,443.1 L647.4,441.9 L648.0,440.0 L648.4,438.1 L648.8,437.1 L648.9,435.4 L649.3,433.0 L649.8,431.5 L650.0,430.0 L651.4,430.7 L652.5,431.2 L652.8,429.7 L653.7,428.1 L654.0,426.9 L654.5,425.0 L654.8,423.3 L655.2,422.0 L655.3,419.6 L656.0,418.4 L656.1,417.0 L656.5,415.0 L657.0,413.4 L657.4,412.0 L657.5,410.0 L658.1,408.2 L658.1,407.0 L658.9,405.2 L659.2,403.8 L659.6,402.4 L660.2,400.5 L660.4,399.1 L661.0,397.5 L661.3,396.3 L661.7,394.5 L662.1,393.1 L662.8,391.4 L662.9,390.3 L663.4,388.9 L664.0,387.5 L664.2,385.7 L664.9,385.0 L665.4,383.1 L665.6,381.3 L666.0,380.0 L666.5,378.8 L667.2,376.9 L667.6,375.8 L667.7,374.2 L668.4,372.6 L668.6,371.5 L669.0,370.0 L669.0,368.2 L669.6,367.1 L669.7,365.7 L669.5,363.9 L670.1,361.9 L670.1,361.1 L670.2,359.3 L670.5,357.5 L670.6,359.2 L670.9,360.6 L671.2,362.5 L671.6,363.8 L671.9,365.2 L672.2,366.7 L672.3,368.5 L672.5,370.0 L672.8,367.9 L673.0,366.8 L673.3,365.2 L673.8,363.7 L674.4,361.9 L674.5,360.0 L674.8,357.9 L675.4,356.9 L676.0,354.7 L676.0,353.8 L676.7,351.7 L677.0,350.0 L677.3,348.1 L677.4,347.0 L677.6,345.0 L677.6,343.9 L678.1,341.9 L677.9,340.2 L678.5,339.0 L678.5,337.5 L679.3,336.3 L680.2,334.0 L681.0,332.5 L681.8,330.8 L682.2,330.2 L683.0,328.8 L684.1,327.7 L685.5,327.5 L686.5,326.1 L687.5,325.0 L688.3,326.3 L688.7,328.2 L689.0,330.0 L689.4,328.4 L689.6,326.7 L689.6,325.3 L690.2,323.6 L690.1,322.1 L690.3,320.5 L690.8,319.1 L691.0,317.5 L692.1,316.1 L693.0,315.0 L693.2,315.8 L693.9,317.2 L694.5,318.8 L694.9,317.1 L695.3,315.9 L695.6,314.6 L695.8,312.9 L696.1,311.1 L696.5,310.0 L697.5,308.8 L698.0,307.9 L699.0,306.2 L700.0,307.6 L701.0,308.8 L701.3,306.9 L701.9,305.5 L701.8,304.7 L702.0,302.7 L702.5,301.2 L704.5,302.5 L704.8,300.8 L705.4,299.5 L705.2,298.1 L705.6,296.9 L706.4,295.6 L706.5,293.8 L706.8,292.2 L707.4,290.4 L708.0,288.8 L709.1,289.8 L710.5,291.2 L711.6,292.0 L713.0,292.5 L713.8,294.4 L715.0,295.5 L715.3,294.3 L715.8,291.9 L716.6,290.7 L717.1,289.1 L717.5,287.5 L718.0,285.7 L718.4,284.6 L719.0,282.7 L718.9,281.8 L719.8,280.1 L720.0,278.8 L721.4,277.6 L722.5,276.2 L724.0,277.5 L724.2,276.0 L724.6,274.2 L724.6,273.3 L724.9,271.6 L725.1,270.1 L725.5,268.8 L726.1,267.5 L726.7,265.7 L726.8,264.1 L727.3,262.5 L728.0,261.2 L729.3,262.2 L730.5,263.0 L731.6,261.2 L733.0,260.0 L733.6,258.0 L734.7,256.4 L735.5,255.0 L736.7,253.8 L737.5,252.5 L737.6,253.9 L737.6,255.6 L738.1,256.8 L738.3,258.1 L738.2,259.5 L738.5,261.2 L738.5,263.0 L738.9,264.8 L738.8,266.5 L739.2,267.8 L739.3,269.5 L739.5,271.2 L740.3,269.9 L741.5,268.8 L742.4,267.7 L743.4,266.0 L744.0,265.0 L745.0,263.6 L745.8,262.1 L746.5,260.0 L747.6,259.6 L749.0,258.8 L750.0,259.5 L750.7,261.3 L751.5,262.0 L752.6,261.3 L754.0,260.0 L755.1,258.3 L755.5,256.4 L756.5,255.0 L757.5,253.3 L758.1,251.6 L759.0,250.0 L761.0,251.2 L761.7,249.5 L761.7,248.5 L762.4,246.5 L763.0,245.0 L764.5,246.1 L765.5,247.5 L766.1,249.1 L767.0,249.7 L768.0,251.2 L769.2,252.3 L770.0,253.8 L771.5,252.3 L772.5,251.2 L773.2,249.7 L774.2,248.8 L775.0,247.5 L775.9,246.3 L776.9,245.3 L778.0,243.8 L779.5,245.2 L780.5,246.2 L781.7,247.1 L782.5,248.8 L783.2,247.2 L784.0,246.7 L785.0,245.0 L786.2,244.1 L787.0,242.2 L788.0,241.2 L789.2,239.6 L790.5,238.8 L791.7,237.3 L792.4,236.7 L793.5,235.0 L793.6,236.8 L793.9,238.1 L794.0,239.7 L794.4,240.7 L794.8,242.4 L795.0,243.8 L796.1,242.8 L797.5,242.5 L799.0,241.4 L800.5,241.2 L802.0,240.5 L803.0,240.0 L803.1,241.3 L803.4,242.8 L803.9,244.4 L804.1,245.8 L804.5,247.5 L804.7,249.2 L805.0,250.7 L805.2,251.5 L805.3,253.6 L805.7,254.7 L806.0,256.2 L807.0,257.8 L808.0,258.8 L808.6,259.9 L809.3,260.8 L810.0,262.5 L810.5,264.1 L811.0,265.8 L811.5,267.5 L812.7,266.4 L814.0,265.0 L815.1,265.8 L816.5,265.8 L817.1,265.0 L818.0,263.8 L819.0,262.5 L819.5,263.4 L820.4,265.3 L821.0,266.2 L822.4,266.6 L823.5,266.2 L825.0,267.1 L826.0,268.8 L826.6,270.1 L827.5,272.0 L828.0,273.8 L828.4,275.5 L828.8,276.8 L829.0,278.2 L828.8,279.9 L829.0,280.7 L829.5,282.5 L829.8,283.9 L829.9,285.3 L829.8,287.5 L829.8,288.9 L830.5,290.3 L830.5,292.4 L830.5,293.8 L830.7,292.4 L830.8,290.1 L830.6,288.9 L831.2,287.0 L831.0,285.3 L831.3,284.0 L831.2,282.5 L831.1,281.0 L831.6,279.4 L831.5,277.5 L831.5,275.7 L831.7,274.8 L832.0,272.8 L832.2,271.6 L832.2,269.7 L832.6,268.6 L832.6,266.4 L833.1,265.5 L833.0,263.8 L833.6,262.1 L834.2,260.6 L834.3,258.7 L835.0,257.5 L836.2,256.3 L837.5,255.0 L838.7,255.2 L840.0,254.5 L841.3,253.2 L842.5,252.0 L843.8,252.3 L845.0,252.5 L845.8,251.5 L846.5,250.5 L846.9,252.2 L847.4,253.7 L847.8,255.6 L848.0,257.5 L848.6,258.6 L848.8,260.4 L849.3,261.7 L849.5,263.2 L850.0,265.0 L851.3,264.8 L852.5,264.5 L853.5,264.5 L855.0,265.0 L856.1,264.8 L857.5,263.8 L859.0,262.9 L860.5,262.0 L861.9,261.1 L863.5,260.0 L864.9,258.9 L866.0,257.5 L866.4,255.9 L867.2,254.0 L868.0,252.6 L868.5,251.2 L869.2,249.7 L870.2,247.9 L871.0,246.2 L872.0,245.0 L872.6,243.4 L873.5,242.5 L874.4,241.1 L875.2,239.9 L876.0,238.8 L876.1,236.8 L876.6,235.4 L877.4,234.3 L877.5,232.9 L878.0,231.2 L878.6,229.3 L879.1,227.9 L879.8,226.2 L880.0,225.0 L880.4,226.4 L881.2,228.6 L881.5,230.0 L882.4,228.4 L883.1,227.7 L884.0,226.2 L885.0,225.8 L886.5,224.5 L887.9,223.8 L888.9,222.4 L890.0,221.2 L890.7,222.5 L890.7,223.8 L891.1,225.9 L891.4,227.3 L892.0,228.9 L892.5,230.0 L893.9,229.5 L895.0,228.8 L896.4,227.7 L897.5,227.5 L897.7,225.8 L898.2,224.5 L898.8,223.0 L899.0,221.2 L899.5,220.2 L899.5,218.8 L899.7,217.3 L900.1,216.1 L900.2,214.2 L900.6,212.7 L901.0,211.0 L901.0,210.0 L901.5,208.3 L901.7,206.7 L902.2,205.4 L902.9,203.4 L903.3,202.0 L903.5,200.0 L903.7,198.6 L904.5,197.1 L904.9,194.9 L905.0,193.5 L905.4,191.9 L906.0,190.0 L906.8,188.7 L907.4,186.7 L908.5,185.5 L909.0,183.8 L909.8,182.6 L910.7,181.4 L911.6,179.8 L912.5,178.8 L914.0,177.8 L915.1,176.1 L916.1,175.2 L917.5,173.8 L918.8,172.6 L919.7,171.4 L921.0,170.0 L921.9,168.6 L922.8,167.5 L923.7,166.5 L924.8,164.7 L925.4,164.2 L926.3,162.6 L927.3,160.8 L928.0,160.0 L929.0,158.9 L929.8,157.4 L930.7,156.0 L931.6,154.9 L932.7,154.2 L933.3,152.9 L934.2,151.5 L934.9,150.5 L936.0,149.0 L937.0,148.0 L937.6,146.8 L938.4,145.4 L939.5,143.7 L940.4,143.2 L941.4,141.5 L942.4,140.3 L943.3,139.1 L944.0,138.0 L944.8,137.2 L945.8,135.3 L947.1,133.9 L948.0,133.3 L949.0,131.6 L950.1,130.8 L951.0,129.4 L952.0,128.0 L952.9,126.8 L954.3,126.2 L954.7,124.4 L955.9,123.8 L956.8,122.1 L958.1,121.0 L959.3,120.1 L960.0,119.0 L961.4,118.1 L962.1,117.0 L963.4,115.3 L964.3,114.6 L965.7,113.1 L967.0,111.9 L968.0,111.0 L969.1,109.6 L970.3,109.3 L971.5,107.7 L972.5,107.1 L973.7,106.3 L975.0,105.0 L976.0,104.4 L977.6,103.4 L978.7,101.8 L980.0,101.2 L980.7,99.7 L981.4,97.6 L982.5,96.2 L983.3,95.0 L983.9,93.4 L984.4,91.9 L985.0,90.0 L985.9,88.8 L986.6,87.1 L987.5,86.2 L988.2,84.8 L989.2,83.4 L990.4,82.6 L991.0,81.2 L992.1,80.4 L992.9,79.1 L994.2,77.3 L995.0,76.2 L996.1,75.3 L997.9,74.0 L999.0,72.5 L1000.3,71.8 L1001.5,70.6 L1003.0,70.0 L1004.5,69.4 L1005.8,68.7 L1007.5,67.5 L1008.6,67.3 L1010.0,66.5 L1011.5,65.5 L1013.2,65.3 L1014.5,64.5 L1016.0,63.8 L1017.2,63.5 L1018.5,62.9 L1020.0,62.0 L1021.4,60.9 L1022.9,60.5 L1024.0,60.0 L1024.9,58.9 L1026.1,58.1 L1027.5,57.5 L1028.4,56.4 L1029.2,54.8 L1030.0,53.0 L1031.4,52.7 L1032.5,52.0 L1033.7,52.7 L1035.0,53.8 L1036.1,54.2 L1037.5,54.8 L1039.0,55.0 L1040.7,55.3 L1042.5,55.5 L1043.9,55.0 L1045.0,54.1 L1046.5,53.8 L1048.4,52.9 L1050.0,52.5 L1051.3,52.1 L1052.3,51.2 L1053.5,50.0 L1054.8,48.9 L1056.0,47.0 L1056.8,48.6 L1057.8,49.6 L1058.5,51.2 L1059.8,51.9 L1061.0,52.5 L1061.6,53.9 L1062.6,55.3 L1063.0,56.2 L1063.8,57.6 L1064.4,59.7 L1065.0,61.2 L1066.5,62.1 L1067.5,63.8 L1068.8,63.6 L1070.5,62.5 L1072.2,62.1 L1074.0,61.2 L1075.8,61.8 L1077.5,62.5 L1078.6,63.4 L1080.1,64.2 L1081.0,65.0 L1082.7,66.1 L1084.0,67.5 L1084.9,69.3 L1085.8,71.2 L1086.5,72.5 L1087.3,74.2 L1088.5,75.0 L1089.2,73.1 L1089.8,71.3 L1090.5,70.0 L1091.6,68.8 L1093.0,67.0 L1094.6,66.6 L1096.0,65.5 L1097.1,66.1 L1098.5,67.5 L1099.1,68.7 L1099.9,69.8 L1100.5,71.2 L1102.4,72.0 L1104.0,72.5 L1105.6,72.8 L1107.5,72.5 L1108.3,73.8 L1109.3,74.6 L1110.5,76.2 L1111.5,77.5 L1112.6,78.6 L1113.5,80.0 L1114.7,81.5 L1115.3,82.1 L1116.5,83.8 L1117.9,84.5 L1118.6,85.1 L1120.0,86.2 L1121.3,87.0 L1122.3,88.6 L1123.5,89.5 L1124.9,90.9 L1126.5,92.0 L1127.6,93.7 L1128.2,94.9 L1129.0,96.2 L1129.5,97.9 L1130.3,99.5 L1130.9,101.2 L1131.5,102.5 L1132.0,104.4 L1133.1,105.4 L1133.5,107.5 L1134.6,107.7 L1136.0,107.0 L1138.0,106.2 L1138.6,108.2 L1139.7,109.2 L1140.5,111.2" fill="none" stroke="#5a75dc" stroke-width="2.15" stroke-linejoin="round" stroke-linecap="round"/>
<path d="M85.0,684.8 L85.0,683.5 L85.0,682.2 L85.0,680.9 L85.1,679.6 L85.1,678.3 L85.1,677.0 L85.1,675.7 L85.1,674.4 L85.2,673.1 L85.2,671.8 L85.2,670.5 L85.2,669.2 L85.2,668.0 L85.2,666.7 L85.2,665.4 L85.3,664.1 L85.3,662.8 L85.3,661.5 L85.3,660.2 L85.3,658.9 L85.3,657.6 L85.4,656.3 L85.4,655.0 L85.4,653.8 L85.4,652.5 L85.4,651.2 L85.5,649.9 L85.5,648.6 L85.5,647.3 L85.5,646.0 L85.5,644.7 L85.5,643.4 L85.6,642.1 L85.6,640.8 L85.6,639.5 L85.6,638.2 L85.6,636.9 L85.6,635.6 L85.7,634.3 L85.7,633.0 L85.7,631.7 L85.7,630.4 L85.7,629.1 L85.8,627.9 L85.8,626.6 L85.8,625.3 L85.8,624.0 L85.8,622.7 L85.9,621.4 L85.9,620.1 L85.9,618.8 L85.9,617.5 L85.9,616.2 L85.9,614.9 L86.0,613.6 L86.0,612.3 L86.0,611.0 L85.9,611.4 L86.6,612.4 L86.6,614.4 L86.1,616.0 L86.2,617.1 L86.5,617.5 L87.2,620.6 L87.5,621.0 L87.1,621.6 L87.9,624.6 L88.0,624.5 L88.7,624.9 L88.7,626.7 L87.7,627.5 L88.1,630.5 L88.5,631.0 L88.1,632.5 L88.9,633.2 L88.8,633.7 L88.2,635.3 L89.2,637.1 L88.7,638.7 L89.0,639.2 L89.6,641.5 L88.9,642.4 L89.4,644.4 L89.8,644.2 L89.5,646.0 L90.3,643.8 L89.6,644.1 L89.3,642.2 L89.2,641.4 L90.4,639.9 L90.7,638.0 L90.5,637.5 L90.4,635.9 L90.9,635.9 L90.5,633.5 L91.2,635.2 L92.0,636.0 L92.1,637.8 L93.5,638.5 L93.9,641.0 L94.3,640.5 L93.8,642.7 L93.4,643.4 L93.8,643.8 L93.7,646.7 L94.0,646.6 L94.5,649.4 L94.2,649.6 L95.0,651.0 L95.2,653.2 L95.8,654.4 L95.1,654.5 L95.4,657.0 L96.4,656.4 L95.4,657.8 L95.7,659.7 L96.3,660.4 L95.6,662.0 L96.5,663.5 L96.6,664.9 L97.7,666.5 L97.3,667.5 L97.5,668.5 L98.0,668.6 L98.5,671.7 L98.6,673.0 L98.1,673.2 L97.8,675.1 L98.0,674.9 L98.4,676.4 L99.0,678.5 L98.8,678.7 L98.4,680.3 L98.6,682.2 L98.6,684.8 L99.5,684.3 L99.0,686.1 L99.3,686.9 L100.1,690.4 L99.5,690.5 L99.0,690.8 L99.5,692.6 L100.3,693.7 L99.2,697.0 L100.0,696.3 L100.0,698.5 L100.2,696.1 L100.4,697.2 L101.0,695.2 L100.3,693.2 L100.3,692.9 L101.0,691.7 L100.8,689.1 L101.2,688.5 L102.2,691.0 L102.7,691.8 L103.0,692.8 L103.0,693.5 L102.7,694.8 L103.1,694.8 L102.7,696.7 L103.2,699.0 L104.4,699.6 L104.6,702.2 L104.7,701.9 L103.8,702.8 L103.9,704.0 L104.5,706.0 L104.8,708.3 L105.3,708.6 L105.2,710.7 L104.5,711.7 L105.9,713.3 L105.8,713.9 L105.1,716.0 L105.5,717.3 L106.6,717.6 L105.9,720.3 L106.2,720.5 L106.3,719.2 L106.3,717.9 L106.4,716.5 L106.4,715.2 L106.5,713.9 L106.5,712.6 L106.6,711.2 L106.6,709.9 L106.7,708.6 L106.7,707.3 L106.7,706.0 L106.8,704.6 L106.8,703.3 L106.9,702.0 L106.9,700.7 L107.0,699.4 L107.0,698.0 L107.1,696.7 L107.1,695.4 L107.1,694.1 L107.2,692.8 L107.2,691.4 L107.3,690.1 L107.3,688.8 L107.4,687.5 L107.4,686.1 L107.5,684.8 L107.5,683.5 L107.5,682.2 L107.6,680.9 L107.6,679.6 L107.7,678.3 L107.7,677.1 L107.7,675.8 L107.8,674.5 L107.8,673.2 L107.9,671.9 L107.9,670.6 L107.9,669.3 L108.0,668.0 L108.0,666.7 L108.0,665.5 L108.1,664.2 L108.1,662.9 L108.2,661.6 L108.2,660.3 L108.2,659.0 L108.3,657.7 L108.3,656.4 L108.4,655.1 L108.4,653.9 L108.4,652.6 L108.5,651.3 L108.5,650.0 L108.6,648.7 L108.6,647.4 L108.6,646.1 L108.7,644.8 L108.7,643.5 L108.8,642.2 L108.8,643.6 L108.9,644.9 L109.0,646.2 L109.0,647.5 L109.1,648.8 L109.2,650.2 L109.2,651.5 L109.3,652.8 L109.4,654.1 L109.4,655.4 L109.5,656.8 L109.6,658.1 L109.7,659.4 L109.7,660.7 L109.8,662.0 L109.9,663.4 L109.9,664.7 L110.0,666.0 L110.5,663.9 L109.8,662.6 L111.1,663.0 L110.1,661.8 L111.5,660.1 L110.7,658.6 L110.5,656.0 L111.2,656.0 L112.0,657.7 L111.5,659.8 L111.4,660.9 L112.1,660.6 L111.3,662.2 L111.4,664.3 L111.5,665.2 L111.4,667.7 L111.8,667.9 L112.3,670.4 L112.1,671.8 L112.3,672.2 L112.4,672.2 L112.5,674.8 L112.5,672.7 L111.9,673.0 L112.3,670.9 L113.2,669.9 L112.7,668.5 L113.2,668.0 L112.6,666.2 L112.9,664.2 L113.8,663.5 L113.6,662.9 L114.2,660.9 L113.8,659.8 L113.8,658.5 L114.2,660.2 L114.6,661.1 L115.0,663.4 L115.5,663.5 L116.2,665.7 L117.0,665.4 L116.8,668.4 L117.6,667.6 L117.5,669.8 L117.6,670.7 L118.1,671.2 L118.7,673.4 L120.0,674.0 L120.6,673.7 L119.8,672.0 L120.7,669.2 L121.2,670.0 L120.3,668.7 L120.8,666.2 L121.8,665.8 L120.7,663.5 L121.4,662.0 L121.1,660.7 L122.0,658.6 L121.9,658.4 L122.0,657.2 L121.5,658.1 L122.6,659.8 L122.0,662.2 L123.3,663.4 L122.5,662.9 L122.6,665.4 L123.2,665.1 L123.7,668.3 L124.0,668.5 L125.5,668.5 L126.0,669.8 L125.8,669.5 L126.7,667.8 L126.2,664.9 L127.4,664.6 L126.8,664.6 L127.9,663.0 L128.0,661.0 L127.7,660.6 L128.0,659.4 L128.9,656.8 L129.4,657.1 L129.3,653.8 L130.0,653.5 L130.2,651.6 L129.7,650.2 L129.8,649.0 L130.4,648.0 L131.2,646.7 L131.0,645.2 L130.9,643.5 L131.0,642.3 L131.8,642.4 L131.2,640.9 L132.5,638.8 L132.0,638.5 L132.1,637.2 L132.2,635.9 L132.3,634.5 L132.4,633.2 L132.4,631.9 L132.5,630.6 L132.6,629.2 L132.7,627.9 L132.8,626.6 L132.9,625.3 L133.0,623.9 L133.1,622.6 L133.1,621.3 L133.2,620.0 L133.3,618.6 L133.4,617.3 L133.5,616.0 L133.5,614.7 L133.6,613.4 L133.6,612.1 L133.7,610.8 L133.7,609.5 L133.8,608.1 L133.8,606.8 L133.9,605.5 L133.9,604.2 L134.0,602.9 L134.0,601.6 L134.1,600.3 L134.1,599.0 L134.2,597.7 L134.2,596.4 L134.3,595.0 L134.3,593.7 L134.4,592.4 L134.4,591.1 L134.5,589.8 L134.5,588.5 L135.2,589.6 L135.0,591.8 L135.1,592.3 L135.8,594.7 L135.5,595.6 L136.0,596.0 L136.4,595.1 L136.1,593.1 L135.7,591.3 L135.9,591.6 L136.3,588.9 L136.1,589.4 L137.4,587.7 L137.0,586.0 L136.8,584.1 L136.9,583.4 L136.9,582.1 L137.1,582.2 L138.3,579.9 L137.4,579.7 L137.6,576.9 L137.3,575.7 L138.1,574.8 L137.8,573.5 L137.6,571.7 L138.5,571.0 L138.5,569.7 L138.5,568.4 L138.5,567.1 L138.6,565.7 L138.6,564.4 L138.6,563.1 L138.6,561.8 L138.6,560.5 L138.6,559.2 L138.6,557.8 L138.6,556.5 L138.7,555.2 L138.7,553.9 L138.7,552.6 L138.7,551.3 L138.7,549.9 L138.7,548.6 L138.7,547.3 L138.8,546.0 L138.8,544.7 L138.8,543.4 L138.8,542.1 L138.8,540.7 L138.8,539.4 L138.8,538.1 L138.8,536.8 L138.9,535.5 L138.9,534.2 L138.9,532.8 L138.9,531.5 L138.9,530.2 L138.9,528.9 L138.9,527.6 L138.9,526.3 L139.0,524.9 L139.0,523.6 L139.0,522.3 L139.0,521.0 L139.0,522.3 L139.1,523.6 L139.1,524.9 L139.1,526.2 L139.2,527.5 L139.2,528.8 L139.3,530.1 L139.3,531.4 L139.3,532.7 L139.4,534.0 L139.4,535.3 L139.4,536.6 L139.5,537.9 L139.5,539.1 L139.6,540.4 L139.6,541.7 L139.6,543.0 L139.7,544.3 L139.7,545.6 L139.7,546.9 L139.8,548.2 L139.8,549.5 L139.9,550.8 L139.9,552.1 L139.9,553.4 L140.0,554.7 L140.0,556.0 L140.1,554.7 L140.1,553.4 L140.2,552.1 L140.2,550.7 L140.3,549.4 L140.3,548.1 L140.4,546.8 L140.4,545.5 L140.5,544.2 L140.5,542.8 L140.6,541.5 L140.6,540.2 L140.7,538.9 L140.7,537.6 L140.8,536.3 L140.8,534.9 L140.9,533.6 L140.9,532.3 L141.0,531.0 L140.5,532.0 L140.5,532.3 L141.0,534.1 L141.5,536.1 L141.9,537.6 L141.9,539.4 L141.5,539.3 L142.5,540.1 L142.2,542.6 L142.0,543.5 L142.0,542.2 L142.1,540.9 L142.1,539.6 L142.2,538.3 L142.2,537.0 L142.3,535.6 L142.3,534.3 L142.4,533.0 L142.4,531.7 L142.5,530.4 L142.5,529.1 L142.6,527.8 L142.6,526.5 L142.7,525.2 L142.7,523.9 L142.8,522.5 L142.8,521.2 L142.9,519.9 L142.9,518.6 L143.0,517.3 L143.0,516.0 L143.1,514.7 L143.2,513.4 L143.3,512.0 L143.4,510.7 L143.4,509.4 L143.5,508.1 L143.6,506.7 L143.7,505.4 L143.8,504.1 L143.9,502.8 L144.0,501.4 L144.1,500.1 L144.1,498.8 L144.2,497.5 L144.3,496.1 L144.4,494.8 L144.5,493.5 L143.9,493.0 L145.2,491.1 L145.1,490.2 L144.3,488.2 L144.9,487.6 L145.4,486.2 L145.2,485.1 L145.4,483.2 L144.8,480.2 L144.7,479.7 L144.8,479.5 L145.5,477.7 L145.5,476.0 L145.8,475.1 L145.7,472.1 L146.3,472.6 L146.0,470.8 L146.4,468.3 L146.6,467.4 L145.7,466.1 L146.8,464.6 L147.0,465.2 L146.7,462.4 L146.8,461.8 L147.4,460.4 L147.3,457.7 L146.7,456.8 L147.7,455.6 L147.5,454.8 L147.7,454.9 L147.0,456.8 L148.0,459.2 L148.1,459.5 L148.0,461.3 L148.0,461.8 L148.7,463.3 L149.0,466.5 L147.6,466.6 L148.9,469.2 L148.5,468.8 L148.2,471.8 L148.3,472.2 L148.3,473.4 L149.6,473.8 L149.0,476.0 L149.6,474.8 L149.9,474.0 L149.1,473.2 L149.6,469.8 L149.1,469.7 L150.0,468.5 L150.1,469.3 L149.8,470.6 L150.3,473.1 L150.0,474.1 L151.4,473.8 L151.8,476.5 L151.9,476.7 L151.5,478.5 L151.5,477.0 L152.7,476.2 L151.9,474.6 L152.0,472.4 L152.0,473.1 L152.5,472.1 L153.0,469.8 L152.8,470.4 L153.3,471.5 L153.3,474.6 L154.2,475.5 L154.0,477.0 L154.7,477.4 L154.5,477.4 L154.7,479.6 L154.5,481.0 L154.6,482.3 L154.7,483.6 L154.9,485.0 L155.0,486.3 L155.1,487.6 L155.2,488.9 L155.3,490.3 L155.4,491.6 L155.6,492.9 L155.7,494.2 L155.8,495.6 L155.9,496.9 L156.0,498.2 L156.1,499.5 L156.3,500.9 L156.4,502.2 L156.5,503.5 L157.0,502.6 L156.5,499.9 L157.6,498.8 L157.1,498.1 L156.9,497.8 L158.1,495.4 L157.8,494.3 L157.8,493.2 L157.4,491.4 L158.0,491.0 L157.8,493.3 L158.4,492.8 L159.2,496.0 L158.7,495.1 L158.5,496.2 L158.9,497.5 L159.0,499.1 L159.6,502.0 L160.1,502.0 L159.8,503.6 L159.9,504.3 L159.7,505.4 L160.5,507.2 L161.3,505.0 L160.7,504.9 L161.4,502.5 L160.6,501.3 L160.9,500.4 L161.8,500.1 L161.8,496.7 L160.7,497.1 L162.1,495.1 L161.7,492.6 L161.5,493.6 L162.3,492.1 L162.6,489.2 L162.0,488.5 L161.8,486.4 L162.8,486.5 L163.9,485.3 L163.8,484.2 L164.0,482.2 L164.2,481.1 L163.9,480.5 L164.5,479.5 L165.4,476.8 L165.5,476.0 L165.0,474.0 L165.9,473.8 L165.2,470.9 L165.9,470.9 L165.8,468.6 L166.3,466.8 L165.9,466.6 L167.0,465.7 L167.0,463.9 L166.1,462.0 L167.3,461.8 L166.4,458.8 L166.8,459.1 L166.8,456.7 L167.0,456.0 L167.4,458.3 L166.9,457.3 L167.3,459.6 L167.9,460.2 L168.3,462.8 L168.0,462.8 L168.9,464.3 L168.8,465.3 L168.1,467.9 L168.4,469.6 L168.8,469.0 L169.0,471.0 L168.7,469.5 L169.5,469.6 L168.8,467.0 L169.1,467.2 L169.1,463.6 L169.1,463.2 L170.5,463.2 L170.3,462.2 L170.8,459.3 L169.8,459.6 L170.7,456.1 L170.5,456.0 L172.0,455.7 L173.0,456.0 L173.1,454.7 L173.2,453.4 L173.3,452.2 L173.3,450.9 L173.4,449.6 L173.5,448.3 L173.6,447.0 L173.7,445.7 L173.8,444.5 L173.9,443.2 L174.0,441.9 L174.0,440.6 L174.1,439.3 L174.2,438.0 L174.3,436.8 L174.4,435.5 L174.5,434.2 L174.6,432.9 L174.7,431.6 L174.7,430.3 L174.8,429.1 L174.9,427.8 L175.0,426.5 L175.0,427.8 L175.1,429.1 L175.1,430.4 L175.2,431.6 L175.2,432.9 L175.3,434.2 L175.3,435.5 L175.4,436.8 L175.4,438.1 L175.5,439.4 L175.5,440.6 L175.6,441.9 L175.6,443.2 L175.7,444.5 L175.7,445.8 L175.8,447.1 L175.8,448.4 L175.9,449.6 L175.9,450.9 L176.0,452.2 L176.0,453.5 L175.9,454.4 L175.6,454.9 L175.9,457.1 L176.9,457.9 L177.0,459.4 L176.2,462.3 L176.9,462.7 L175.9,464.1 L176.4,466.5 L176.2,466.5 L177.3,467.0 L176.7,470.3 L177.3,469.7 L176.2,471.1 L177.0,473.5 L177.1,472.2 L177.1,470.9 L177.2,469.5 L177.2,468.2 L177.3,466.9 L177.4,465.6 L177.4,464.2 L177.5,462.9 L177.5,461.6 L177.6,460.3 L177.6,458.9 L177.7,457.6 L177.8,456.3 L177.8,455.0 L177.9,453.6 L177.9,452.3 L178.0,451.0 L178.8,451.7 L178.6,454.7 L178.2,454.4 L179.2,456.6 L178.3,458.2 L178.5,458.4 L178.2,461.0 L179.7,462.0 L179.9,461.8 L178.9,464.3 L180.2,466.8 L179.4,466.4 L179.6,468.3 L180.5,468.9 L180.0,471.0 L180.6,472.8 L180.9,474.2 L180.7,474.3 L180.5,475.7 L181.4,476.2 L180.7,479.1 L180.9,478.7 L181.5,481.0 L181.1,479.9 L181.9,479.7 L183.1,478.5 L182.5,475.0 L182.6,474.7 L183.5,473.5 L183.9,472.0 L183.3,470.6 L184.0,469.9 L184.3,469.0 L184.2,465.9 L184.6,465.0 L184.3,463.8 L184.7,462.1 L184.0,460.9 L184.0,461.1 L184.7,458.4 L184.5,458.7 L184.8,455.5 L185.4,455.2 L185.0,453.5 L185.9,453.8 L185.3,456.8 L186.1,458.3 L185.1,458.0 L185.4,459.0 L186.8,461.2 L187.0,461.9 L186.5,463.5 L186.6,464.8 L186.6,466.1 L186.7,467.4 L186.8,468.7 L186.9,470.0 L186.9,471.4 L187.0,472.7 L187.1,474.0 L187.1,475.3 L187.2,476.6 L187.3,477.9 L187.4,479.2 L187.4,480.5 L187.5,481.8 L187.6,483.1 L187.6,484.5 L187.7,485.8 L187.8,487.1 L187.9,488.4 L187.9,489.7 L188.0,491.0 L188.1,489.7 L188.2,488.4 L188.2,487.0 L188.3,485.7 L188.4,484.4 L188.5,483.1 L188.6,481.8 L188.7,480.4 L188.8,479.1 L188.8,477.8 L188.9,476.5 L189.0,475.2 L189.1,473.8 L189.2,472.5 L189.2,471.2 L189.3,469.9 L189.4,468.6 L189.5,467.2 L190.5,468.4 L190.0,470.4 L191.5,470.0 L191.4,472.5 L191.2,473.2 L191.5,474.0 L192.5,476.0 L193.3,475.4 L195.1,473.6 L196.0,473.5 L195.8,471.8 L197.3,470.2 L197.2,469.0 L198.4,468.6 L198.5,467.2 L198.8,466.9 L200.5,468.5 L200.6,467.4 L201.3,465.0 L200.8,465.2 L201.5,463.0 L201.6,463.4 L201.9,461.2 L202.2,459.5 L203.3,459.7 L203.0,457.2 L203.5,457.4 L204.8,458.4 L204.5,461.1 L206.0,461.0 L206.4,463.1 L206.9,464.5 L207.4,463.9 L207.3,466.1 L208.7,468.3 L209.0,468.5 L209.6,468.2 L211.5,467.2 L211.7,468.5 L211.8,469.2 L212.8,472.1 L212.6,472.2 L214.0,474.7 L214.0,474.8 L214.3,474.8 L216.2,477.8 L216.2,476.4 L217.0,478.5 L218.2,479.5 L218.8,481.3 L219.3,481.4 L219.8,482.8 L220.0,484.8 L220.5,486.9 L221.8,486.5 L222.0,488.5 L221.8,489.5 L222.4,490.7 L222.0,491.6 L223.1,494.5 L222.2,494.9 L223.5,494.8 L223.8,496.3 L223.5,498.5 L223.7,499.9 L223.9,500.5 L223.7,502.5 L223.8,503.9 L223.9,504.6 L223.4,506.3 L224.2,506.6 L224.7,509.2 L224.3,508.9 L224.5,511.0 L224.6,508.8 L224.2,508.3 L224.2,507.1 L225.0,504.9 L225.3,503.7 L225.5,504.2 L225.3,501.1 L225.4,500.7 L226.2,498.8 L226.2,499.7 L226.1,498.0 L225.4,497.2 L226.0,494.8 L226.4,497.1 L227.4,496.4 L227.6,499.6 L226.9,499.4 L228.0,501.0 L228.9,501.4 L229.6,502.9 L230.0,503.9 L230.0,507.0 L230.5,507.2 L230.2,505.4 L230.7,504.3 L230.2,502.7 L230.5,503.3 L231.3,502.0 L230.7,500.5 L230.7,498.6 L231.6,496.9 L232.1,496.1 L231.8,495.7 L231.2,494.7 L232.1,492.0 L232.0,491.0 L232.5,489.2 L232.9,488.7 L232.0,487.9 L232.2,485.2 L232.8,483.6 L232.9,482.9 L232.7,483.5 L232.7,481.4 L232.4,478.5 L232.1,477.6 L233.0,477.1 L232.9,477.0 L233.0,474.8 L232.7,475.3 L233.8,476.1 L233.1,478.1 L233.6,479.4 L234.0,481.2 L234.8,481.5 L235.0,483.5 L235.6,482.2 L235.3,482.1 L235.8,478.9 L236.0,478.8 L237.0,477.2 L239.1,478.0 L240.0,477.2 L240.8,475.9 L241.1,476.1 L242.8,474.6 L243.8,474.1 L244.5,473.5 L245.3,472.8 L244.3,472.0 L244.1,469.8 L244.8,467.8 L244.4,467.9 L244.4,466.1 L245.9,463.9 L244.9,463.8 L245.5,462.2 L246.5,462.0 L247.5,461.0 L248.1,458.9 L247.4,458.0 L247.1,458.2 L248.4,456.5 L247.3,455.6 L248.5,453.4 L248.6,452.1 L247.9,450.0 L248.1,448.6 L248.3,449.1 L249.0,448.1 L249.1,445.4 L249.0,444.6 L249.0,443.5 L249.6,442.3 L248.9,441.4 L250.1,439.0 L250.1,437.3 L249.3,436.6 L250.1,437.1 L250.2,434.3 L250.0,433.5 L250.8,434.3 L250.0,437.0 L250.8,437.7 L251.0,439.7 L250.9,440.6 L251.4,441.9 L251.2,442.8 L251.5,443.5 L251.6,442.2 L251.6,440.9 L251.7,439.6 L251.7,438.2 L251.8,436.9 L251.8,435.6 L251.9,434.3 L251.9,433.0 L252.0,431.7 L252.0,430.3 L252.1,429.0 L252.1,427.7 L252.2,426.4 L252.2,425.1 L252.3,423.8 L252.3,422.4 L252.4,421.1 L252.4,419.8 L252.5,418.5 L252.6,417.2 L252.7,415.9 L252.7,414.6 L252.8,413.2 L252.9,411.9 L253.0,410.6 L253.1,409.3 L253.1,408.0 L253.2,406.7 L253.3,405.3 L253.4,404.0 L253.4,402.7 L253.5,401.4 L253.6,400.1 L253.7,398.8 L253.8,397.4 L253.8,396.1 L253.9,394.8 L254.0,393.5 L254.2,391.8 L253.8,391.3 L253.7,390.8 L253.9,387.3 L253.9,388.3 L254.4,385.1 L254.0,383.6 L255.1,383.8 L255.2,382.8 L255.0,381.0 L254.3,380.0 L254.6,379.3 L255.2,378.2 L254.0,376.9 L255.2,375.9 L253.9,372.8 L253.8,371.1 L254.8,371.8 L254.4,370.6 L254.3,368.0 L254.0,367.2 L253.6,365.0 L254.7,364.0 L254.2,363.3 L253.9,361.6 L254.5,361.5 L254.8,359.3 L255.9,358.5 L255.9,357.5 L255.5,356.0 L255.8,356.4 L257.5,357.2 L257.5,359.2 L257.5,360.3 L257.9,360.3 L258.5,361.2 L258.6,362.7 L257.5,364.0 L258.8,367.2 L257.8,367.2 L258.6,369.2 L258.3,369.7 L258.6,371.8 L259.0,372.2 L259.0,372.1 L259.4,369.0 L260.4,368.5 L259.8,367.6 L260.2,366.7 L261.4,365.5 L261.5,363.5 L262.5,362.3 L263.0,361.6 L264.0,361.0 L264.7,358.6 L264.8,357.1 L263.9,356.4 L265.0,355.7 L264.3,355.3 L264.2,352.9 L264.7,352.3 L265.2,350.7 L264.7,348.6 L264.5,348.5 L265.3,346.9 L264.7,344.8 L265.7,343.9 L264.8,342.2 L265.5,341.0 L266.2,339.1 L265.2,338.0 L266.1,338.1 L265.3,335.1 L265.5,334.3 L266.0,332.7 L265.8,331.5 L266.9,331.6 L265.7,330.9 L265.7,328.2 L267.1,328.0 L266.5,326.0 L267.0,324.6 L266.3,323.8 L266.3,321.5 L266.9,319.8 L267.0,320.5 L267.6,318.5 L267.7,317.2 L267.1,316.3 L267.6,315.4 L268.5,313.3 L268.0,312.2 L268.4,314.1 L268.5,314.1 L269.3,317.0 L269.7,317.8 L270.2,318.9 L270.0,319.8 L270.4,318.4 L270.1,317.6 L270.0,315.8 L271.3,315.3 L271.3,312.9 L271.2,312.1 L271.5,311.0 L271.5,309.7 L271.6,308.4 L271.6,307.1 L271.6,305.8 L271.7,304.5 L271.7,303.2 L271.7,301.9 L271.8,300.7 L271.8,299.4 L271.8,298.1 L271.9,296.8 L271.9,295.5 L271.9,294.2 L272.0,292.9 L272.0,291.6 L272.1,290.3 L272.1,289.0 L272.1,287.7 L272.2,286.4 L272.2,285.1 L272.2,283.8 L272.3,282.6 L272.3,281.3 L272.3,280.0 L272.4,278.7 L272.4,277.4 L272.4,276.1 L272.5,274.8 L272.5,273.5 L272.8,272.0 L273.1,272.1 L272.5,270.1 L273.5,268.2 L273.2,268.4 L272.7,266.1 L273.0,265.5 L274.4,263.5 L273.3,262.4 L274.0,261.0 L274.2,260.3 L274.2,258.8 L274.8,257.3 L274.3,257.1 L274.1,255.2 L274.5,254.2 L274.2,253.5 L274.7,249.9 L274.7,249.5 L274.4,248.3 L275.2,247.7 L275.2,245.4 L275.5,244.8 L275.2,244.1 L276.4,242.3 L275.4,241.8 L275.8,239.0 L275.5,239.2 L276.7,237.6 L276.3,236.2 L276.0,235.9 L276.3,233.8 L277.1,233.0 L276.7,230.5 L277.0,228.8 L277.0,228.5 L277.1,227.2 L277.2,225.9 L277.2,224.6 L277.3,223.2 L277.4,221.9 L277.5,220.6 L277.6,219.3 L277.6,218.0 L277.7,216.7 L277.8,215.3 L277.9,214.0 L277.9,212.7 L278.0,211.4 L278.1,210.1 L278.2,208.8 L278.3,207.4 L278.3,206.1 L278.4,204.8 L278.5,203.5 L279.2,204.4 L279.4,205.4 L278.9,206.6 L279.2,207.7 L278.8,210.3 L279.4,210.4 L279.6,212.2 L280.0,213.8 L280.5,214.4 L280.5,216.0 L281.4,218.1 L280.3,219.3 L281.9,220.5 L281.0,221.8 L281.9,221.0 L281.3,224.6 L282.5,224.1 L282.5,226.0 L282.1,226.4 L282.5,229.2 L282.8,228.9 L283.9,231.7 L282.9,233.2 L283.8,234.2 L284.1,235.7 L284.0,236.0 L284.9,235.6 L284.5,234.0 L285.5,232.9 L286.0,231.0 L286.1,232.3 L286.2,233.6 L286.2,234.9 L286.3,236.3 L286.4,237.6 L286.5,238.9 L286.6,240.2 L286.6,241.5 L286.7,242.8 L286.8,244.2 L286.9,245.5 L286.9,246.8 L287.0,248.1 L287.1,249.4 L287.2,250.7 L287.3,252.1 L287.3,253.4 L287.4,254.7 L287.5,256.0 L287.5,258.3 L287.7,258.1 L287.3,259.1 L287.8,260.2 L287.8,261.8 L287.9,264.0 L288.0,266.2 L287.3,267.5 L288.1,268.2 L288.4,270.2 L288.0,270.5 L289.0,270.9 L288.6,273.7 L287.7,274.9 L288.5,276.0 L288.5,274.7 L288.6,273.4 L288.6,272.1 L288.7,270.8 L288.7,269.5 L288.8,268.2 L288.8,266.9 L288.8,265.6 L288.9,264.3 L288.9,263.0 L289.0,261.7 L289.0,260.4 L289.0,259.1 L289.1,257.8 L289.1,256.5 L289.2,255.2 L289.2,253.9 L289.2,252.6 L289.3,251.3 L289.3,250.0 L289.4,248.7 L289.4,247.4 L289.5,246.1 L289.5,244.8 L290.0,247.1 L289.6,248.5 L290.1,248.5 L290.8,248.6 L290.7,251.3 L290.3,253.2 L290.6,253.4 L291.0,255.4 L290.7,255.8 L291.2,257.4 L291.5,258.5 L292.2,256.7 L292.3,255.8 L292.0,254.2 L292.2,254.7 L292.6,253.0 L292.2,250.5 L292.4,250.0 L293.0,249.2 L292.3,247.8 L293.7,246.1 L292.7,244.3 L293.5,243.5 L292.9,241.4 L294.4,241.1 L294.1,240.2 L294.6,238.4 L294.3,237.2 L294.6,235.7 L294.7,233.4 L294.8,232.7 L295.1,230.5 L294.4,229.0 L295.4,229.9 L295.3,227.2 L295.7,226.9 L295.5,224.2 L295.5,223.5 L296.5,222.7 L298.0,222.2 L298.1,220.8 L298.9,220.8 L298.3,218.7 L298.6,216.3 L300.1,216.2 L300.0,214.8 L300.8,213.4 L299.6,212.0 L300.7,212.1 L301.5,209.7 L300.8,207.5 L301.3,206.5 L300.8,204.8 L301.5,204.8 L300.9,206.5 L301.2,208.4 L301.3,209.4 L301.5,208.5 L302.5,210.4 L302.7,211.5 L301.8,214.2 L302.9,215.6 L303.1,215.0 L303.1,217.8 L303.0,218.5 L303.4,220.8 L303.6,222.2 L304.8,221.0 L305.0,223.5 L305.1,224.8 L305.1,226.1 L305.2,227.5 L305.2,228.8 L305.3,230.1 L305.3,231.4 L305.4,232.7 L305.4,234.1 L305.5,235.4 L305.6,236.7 L305.6,238.0 L305.7,239.3 L305.7,240.7 L305.8,242.0 L305.8,243.3 L305.9,244.6 L305.9,245.9 L306.0,247.2 L305.4,246.3 L306.7,243.5 L306.0,243.8 L305.9,242.8 L306.4,239.5 L306.4,239.5 L306.6,238.4 L306.2,237.4 L306.6,235.7 L307.1,233.8 L306.9,233.4 L307.8,232.0 L307.3,229.5 L306.7,229.8 L307.7,228.1 L307.5,226.0 L308.5,225.6 L310.0,224.8 L311.5,224.7 L311.8,222.6 L312.5,222.2 L312.7,222.0 L312.9,220.2 L313.6,219.5 L314.2,216.7 L314.0,216.0 L313.5,216.7 L314.3,218.7 L315.1,220.7 L314.2,221.8 L315.5,223.2 L315.4,222.9 L315.5,224.8 L316.8,226.5 L317.3,227.7 L317.5,226.5 L318.5,228.5 L319.2,228.0 L319.3,226.6 L320.9,224.1 L321.1,223.9 L321.5,222.2 L321.9,220.3 L322.1,220.4 L323.4,218.4 L322.9,218.0 L324.0,216.0 L324.6,214.1 L324.4,214.5 L325.0,212.3 L324.6,211.2 L324.3,209.0 L324.4,209.0 L324.8,207.4 L325.1,206.0 L324.8,203.6 L325.5,203.5 L326.4,201.9 L325.3,201.3 L326.5,198.9 L326.4,198.1 L326.5,196.1 L325.9,197.2 L327.4,194.7 L327.0,193.5 L327.6,194.2 L328.4,195.8 L329.2,197.9 L329.0,198.5 L329.8,198.4 L329.3,194.8 L329.6,194.0 L329.7,192.4 L330.8,193.2 L331.0,191.0 L330.9,190.8 L331.6,187.2 L331.1,186.7 L330.4,186.8 L330.6,184.5 L331.2,184.1 L331.3,181.4 L330.9,179.5 L331.7,180.2 L330.6,176.5 L330.6,176.0 L331.0,175.0 L331.7,174.8 L331.7,171.4 L331.7,171.8 L331.6,171.2 L330.8,167.9 L331.9,168.6 L331.8,165.7 L331.8,165.6 L331.2,163.3 L331.5,161.6 L331.9,160.4 L332.0,160.0 L331.8,157.9 L332.6,156.3 L332.8,155.5 L332.0,156.1 L332.4,154.8 L333.6,153.5 L332.6,151.1 L332.7,151.1 L333.5,148.8 L334.2,150.3 L333.8,150.8 L334.5,152.4 L334.4,152.9 L333.9,153.9 L334.8,156.4 L334.1,158.4 L334.5,158.5 L335.0,160.0 L334.9,158.2 L336.3,157.1 L335.6,156.2 L336.5,155.0 L336.6,153.7 L336.7,152.4 L336.8,151.0 L336.9,149.7 L336.9,148.4 L337.0,147.1 L337.1,145.7 L337.2,144.4 L337.3,143.1 L337.4,141.8 L337.5,140.4 L337.6,139.1 L337.6,137.8 L337.7,136.5 L337.8,135.1 L337.9,133.8 L338.0,132.5 L337.8,132.3 L337.6,131.2 L337.6,129.7 L338.6,126.8 L338.4,125.7 L338.1,124.3 L338.4,125.0 L339.4,123.6 L338.1,120.7 L339.4,118.9 L339.3,118.2 L339.0,117.5 L339.9,115.0 L339.9,114.6 L339.1,112.5 L340.4,112.6 L339.6,111.1 L340.9,109.3 L340.5,108.8 L340.7,109.2 L340.1,112.1 L341.0,112.0 L340.1,113.0 L341.0,115.4 L340.5,116.0 L341.1,118.6 L341.5,119.6 L340.6,119.6 L341.5,121.8 L341.5,122.2 L341.7,124.3 L341.8,126.9 L341.4,126.1 L342.1,128.6 L341.5,130.0 L342.8,130.7 L343.0,132.5 L342.7,132.1 L343.2,129.2 L343.4,129.0 L343.0,127.5 L343.8,126.3 L343.5,125.5 L344.7,124.7 L344.2,123.0 L344.5,121.9 L344.2,120.9 L345.0,118.8 L345.8,120.0 L345.2,121.3 L345.3,121.3 L346.1,123.1 L345.0,124.0 L345.2,127.0 L344.9,126.5 L346.0,128.0 L345.1,130.2 L346.0,131.3 L346.0,132.5 L346.0,133.8 L346.1,135.1 L346.1,136.4 L346.2,137.7 L346.2,139.0 L346.3,140.4 L346.3,141.7 L346.4,143.0 L346.4,144.3 L346.5,145.6 L346.5,146.9 L346.6,148.2 L346.6,149.5 L346.7,150.8 L346.7,152.1 L346.8,153.5 L346.8,154.8 L346.9,156.1 L346.9,157.4 L347.0,158.7 L347.0,160.0 L347.4,157.8 L347.8,158.0 L346.7,155.3 L347.5,155.0 L347.3,152.8 L347.6,151.6 L348.0,152.2 L347.5,150.2 L348.5,147.9 L348.7,148.6 L348.2,146.1 L348.5,145.0 L349.2,143.8 L348.8,143.6 L349.6,140.8 L349.0,139.6 L349.5,140.0 L350.2,138.5 L350.0,136.2 L350.6,138.4 L349.7,138.8 L351.2,141.1 L350.3,141.1 L351.0,142.2 L351.0,142.7 L351.1,145.0 L350.6,145.3 L351.5,147.5 L353.0,147.4 L353.8,146.2 L354.0,145.0 L354.7,147.2 L355.0,146.3 L354.8,148.2 L355.1,149.4 L355.1,152.3 L355.4,151.9 L355.4,153.6 L356.3,154.5 L355.5,156.6 L356.0,157.5 L355.6,159.0 L357.0,160.0 L356.2,161.2 L356.7,161.6 L356.3,162.8 L356.7,164.8 L356.8,165.6 L356.7,167.6 L358.0,169.0 L357.8,170.4 L357.4,171.8 L358.0,172.5 L358.2,173.9 L358.7,174.9 L358.6,175.6 L358.7,177.5 L359.3,179.0 L359.0,179.6 L360.0,181.2 L360.7,181.8 L360.4,183.7 L360.1,186.2 L360.2,186.9 L360.2,186.4 L361.4,188.6 L360.3,189.7 L361.0,191.8 L360.6,191.8 L362.0,194.3 L360.9,194.6 L361.4,196.7 L361.9,198.4 L362.3,198.8 L362.0,200.0 L362.7,201.9 L363.1,202.6 L363.4,204.5 L364.0,204.4 L364.2,205.4 L364.0,208.0 L364.6,206.9 L364.4,206.6 L364.7,203.9 L365.2,203.7 L365.2,201.2 L365.1,200.1 L365.7,198.4 L365.4,197.7 L365.6,195.9 L366.0,195.0 L366.6,194.5 L366.3,192.2 L365.9,190.5 L366.0,189.9 L366.8,187.3 L367.4,186.6 L367.4,186.5 L367.8,183.6 L367.1,184.0 L366.6,180.5 L367.6,180.3 L368.2,179.7 L367.8,178.9 L367.9,176.4 L368.0,175.0 L368.4,173.5 L368.1,172.7 L368.3,172.4 L368.9,170.1 L368.2,168.4 L368.9,167.7 L369.3,167.2 L370.0,165.0 L369.4,164.1 L370.4,162.1 L369.9,162.0 L370.0,160.0 L369.8,158.3 L371.3,158.3 L370.9,155.3 L371.7,155.5 L371.9,155.0 L372.2,152.3 L371.4,150.7 L372.2,150.0 L372.5,148.8 L372.3,149.2 L373.1,151.5 L372.9,153.7 L373.6,152.6 L373.5,155.7 L373.5,156.7 L373.3,157.0 L374.8,159.0 L374.5,160.0 L375.8,159.2 L376.5,160.0 L376.6,161.4 L376.4,162.9 L377.0,165.0 L377.2,164.8 L376.7,165.4 L377.8,166.5 L377.0,167.9 L377.7,170.8 L378.0,172.0 L378.0,172.5 L377.6,172.5 L378.9,174.6 L379.1,175.9 L378.5,176.9 L378.6,179.8 L379.6,179.6 L379.7,181.0 L380.0,182.5 L379.5,182.2 L380.5,181.1 L380.4,179.1 L380.3,176.4 L381.5,177.1 L380.7,176.0 L381.6,173.3 L381.5,173.7 L381.5,171.2 L381.6,173.6 L381.4,173.5 L382.3,174.3 L381.8,177.2 L382.2,178.2 L382.0,177.9 L382.4,179.2 L383.4,180.7 L383.0,181.5 L383.1,183.5 L383.0,183.9 L382.8,187.1 L383.5,187.5 L383.7,185.6 L383.8,184.5 L384.3,182.6 L385.3,182.1 L385.5,181.2 L385.2,183.0 L385.2,183.2 L386.5,184.1 L386.1,187.1 L386.8,186.6 L386.3,189.3 L386.5,191.1 L386.4,192.4 L387.0,191.8 L387.1,192.8 L387.6,194.4 L387.5,196.2 L388.5,195.2 L388.1,193.1 L388.9,191.8 L389.7,190.3 L389.5,190.0 L390.2,191.4 L390.5,193.2 L391.5,193.8 L391.7,192.9 L392.4,190.8 L392.5,189.0 L392.6,189.6 L393.5,187.5 L394.0,189.2 L394.4,190.2 L395.5,191.3 L396.5,192.5 L396.4,192.7 L396.7,194.3 L396.7,196.8 L397.2,197.3 L398.4,199.4 L398.6,200.9 L397.7,200.7 L397.8,202.9 L399.0,203.4 L399.0,205.0 L399.0,206.6 L399.5,206.9 L399.9,208.4 L399.7,209.2 L399.0,212.3 L400.1,213.0 L399.2,212.6 L399.5,214.2 L399.8,216.0 L399.6,217.0 L400.6,217.9 L400.5,220.0 L401.2,221.4 L401.2,221.9 L401.0,224.2 L401.0,223.8 L401.9,226.9 L401.3,226.4 L402.3,229.0 L402.0,230.0 L402.3,228.1 L404.0,227.5 L403.9,229.5 L404.6,231.0 L405.5,231.2 L406.2,229.0 L406.5,228.5 L407.0,228.3 L407.0,226.2 L406.8,226.5 L407.9,228.6 L408.0,230.5 L407.8,232.1 L407.8,232.4 L407.0,234.2 L407.7,235.0 L408.6,235.3 L408.4,236.4 L408.5,239.5 L407.9,240.1 L409.1,241.6 L408.5,242.5 L408.6,243.2 L408.0,244.8 L408.6,245.8 L408.5,246.9 L409.2,249.6 L408.5,249.9 L409.0,251.7 L409.7,252.8 L408.8,255.5 L408.7,256.1 L409.0,258.0 L409.4,259.2 L408.9,260.3 L409.5,261.2 L409.8,259.9 L410.2,259.6 L409.4,257.0 L410.0,255.5 L409.7,254.5 L410.0,254.3 L410.6,251.5 L410.6,251.2 L411.0,250.0 L411.0,247.9 L410.7,246.3 L412.3,246.9 L411.1,245.5 L412.7,243.9 L411.5,242.5 L412.2,240.5 L412.5,240.0 L412.9,240.0 L413.9,242.9 L413.8,244.8 L414.0,245.0 L415.2,244.4 L416.0,245.0 L415.9,245.3 L415.8,248.2 L417.3,248.2 L416.5,250.3 L417.8,252.3 L417.5,252.5 L417.3,254.5 L418.6,255.6 L418.1,255.5 L419.2,257.1 L419.0,258.8 L419.3,257.6 L419.8,257.1 L420.1,253.9 L421.0,253.8 L422.4,254.7 L423.5,255.0 L424.6,254.3 L425.4,253.6 L425.4,251.2 L426.0,250.0 L425.8,250.7 L426.8,251.5 L427.3,252.9 L427.2,256.2 L427.1,255.1 L428.0,257.5 L428.0,258.1 L428.5,258.9 L428.8,262.4 L428.8,262.6 L428.2,264.6 L428.6,265.3 L428.5,266.7 L429.0,269.0 L429.5,268.7 L428.7,270.7 L429.2,271.8 L428.7,272.5 L429.0,274.7 L430.1,277.2 L429.5,277.5 L430.2,279.9 L430.4,280.3 L430.3,280.2 L430.3,282.8 L429.8,283.9 L430.9,285.0 L430.6,285.7 L430.3,288.5 L429.9,288.0 L431.0,289.9 L430.3,291.7 L431.0,292.5 L431.1,294.0 L431.4,295.1 L431.8,296.0 L431.4,296.7 L432.8,298.9 L432.5,300.0 L432.1,302.2 L432.5,301.5 L433.1,303.1 L433.3,305.1 L433.1,306.4 L433.1,307.5 L434.0,307.7 L434.0,308.9 L434.2,312.2 L434.5,312.5 L434.9,314.4 L435.6,314.2 L436.2,317.1 L435.2,318.7 L436.0,318.3 L436.5,320.5 L437.3,319.4 L437.1,317.0 L437.2,315.5 L436.5,315.0 L436.3,314.3 L436.7,312.3 L437.6,311.3 L437.9,310.5 L438.0,309.1 L438.2,308.6 L437.2,307.0 L437.5,305.7 L438.2,304.6 L438.0,302.5 L437.5,300.9 L438.6,301.1 L438.7,297.6 L438.6,296.5 L438.6,297.0 L438.1,296.1 L439.0,293.1 L438.4,292.4 L439.5,291.5 L438.5,288.8 L438.6,289.5 L438.8,287.6 L439.1,286.7 L439.5,285.0 L439.8,282.9 L441.1,282.6 L441.3,282.0 L441.5,280.0 L442.5,277.5 L441.9,276.6 L442.4,277.2 L443.2,273.8 L443.0,273.8 L442.6,275.8 L443.5,276.0 L443.3,276.6 L444.0,278.5 L444.1,280.3 L443.1,280.8 L443.4,283.5 L444.1,282.6 L443.5,284.7 L444.1,286.4 L444.1,287.1 L443.6,288.9 L444.5,290.0 L445.3,290.1 L446.5,292.5 L446.8,295.0 L446.5,294.1 L447.8,295.7 L447.5,297.5 L447.8,298.9 L448.5,300.0 L449.3,302.4 L450.7,301.3 L450.8,304.4 L451.5,305.0 L452.3,304.4 L452.1,302.8 L451.9,300.7 L452.7,300.9 L453.2,299.2 L452.4,298.2 L453.3,296.3 L453.3,294.6 L453.4,293.5 L453.5,292.5 L453.1,290.8 L453.8,291.2 L454.4,288.4 L454.3,286.8 L455.0,286.2 L454.9,284.1 L454.6,284.7 L455.4,282.4 L455.7,280.8 L455.3,278.9 L455.6,278.3 L456.4,277.6 L456.9,275.9 L457.0,275.2 L456.5,273.8 L456.0,274.2 L457.0,277.5 L456.8,278.2 L457.1,279.7 L456.7,280.0 L458.1,280.7 L457.3,281.3 L457.3,283.2 L458.3,284.3 L458.0,285.5 L458.5,288.4 L458.5,288.8 L459.3,286.7 L460.1,287.4 L460.5,283.9 L461.0,283.8 L462.7,285.3 L463.5,285.0 L464.5,283.5 L466.0,283.8 L465.8,282.6 L467.0,281.6 L467.3,279.3 L466.6,279.4 L467.3,277.3 L467.6,275.8 L466.9,274.8 L467.1,274.1 L468.0,272.5 L468.0,271.2 L468.6,269.4 L468.6,267.5 L469.5,267.7 L469.8,265.1 L469.5,265.6 L469.5,263.8 L469.6,264.0 L469.8,265.4 L471.1,266.5 L471.6,268.6 L471.5,270.0 L472.6,269.0 L473.5,267.5 L473.8,269.1 L474.2,269.6 L474.6,270.6 L474.8,273.2 L475.2,273.3 L475.0,275.0 L475.8,274.9 L475.7,271.9 L476.2,272.4 L476.0,268.8 L477.0,268.8 L477.1,267.9 L477.7,265.9 L478.2,264.3 L478.1,262.7 L477.1,261.6 L477.3,261.3 L478.2,259.2 L479.0,258.4 L478.5,257.5 L478.1,255.4 L479.1,256.1 L478.4,252.6 L479.4,251.9 L479.8,251.2 L479.5,249.6 L479.8,248.7 L479.2,248.5 L479.0,246.8 L479.1,245.4 L479.7,244.7 L480.0,242.5 L479.6,241.4 L480.4,241.0 L481.4,239.1 L480.6,236.9 L480.9,236.1 L481.5,235.0 L482.1,234.9 L483.5,236.2 L484.4,235.4 L484.2,235.0 L485.0,232.5 L484.8,233.9 L485.0,235.9 L486.3,235.7 L486.4,238.3 L485.9,238.3 L486.5,241.0 L486.2,241.7 L487.0,242.5 L487.4,241.1 L487.7,241.0 L487.4,239.7 L487.9,238.2 L489.0,235.5 L489.3,236.2 L489.0,233.8 L489.0,231.3 L489.0,232.4 L489.2,231.0 L489.7,229.3 L490.5,227.5 L490.1,225.4 L491.2,224.0 L490.9,224.8 L491.7,223.5 L492.3,220.1 L491.4,220.7 L492.3,217.6 L492.3,216.8 L492.5,216.2 L492.6,216.5 L492.2,220.0 L492.9,220.9 L492.8,221.2 L493.1,222.3 L493.4,224.2 L493.5,225.6 L494.3,225.3 L494.5,227.5 L494.8,226.2 L496.1,224.6 L496.0,223.8 L495.7,226.2 L496.8,226.8 L496.0,226.7 L496.1,227.7 L495.9,230.0 L496.6,231.4 L496.6,231.3 L497.2,234.1 L497.1,235.1 L497.4,237.5 L497.8,238.0 L497.2,238.3 L497.5,240.0 L497.5,242.4 L497.5,242.2 L497.6,242.9 L498.6,243.8 L498.1,247.3 L497.6,247.8 L497.9,248.1 L497.7,249.0 L498.8,252.0 L498.9,251.4 L498.7,253.3 L498.5,255.0 L499.1,253.9 L498.9,253.7 L498.8,251.9 L500.4,250.0 L500.3,250.0 L500.5,247.5 L501.1,249.1 L502.5,250.0 L503.2,248.4 L503.4,247.2 L503.4,246.5 L504.0,244.6 L504.0,243.8 L504.4,245.1 L504.0,246.5 L504.2,248.5 L504.7,249.3 L505.0,249.9 L504.7,250.4 L506.0,252.6 L505.5,253.8 L506.2,255.1 L507.3,255.6 L507.5,257.5 L507.5,259.6 L508.4,260.4 L509.5,262.2 L509.5,262.5 L510.5,262.5 L510.1,265.5 L511.2,264.9 L510.6,266.3 L511.5,268.0 L512.2,266.8 L514.0,266.2 L514.7,265.1 L514.4,262.7 L514.5,263.7 L515.1,261.1 L515.0,260.7 L515.7,257.9 L515.5,257.5 L516.0,255.9 L516.0,254.3 L515.9,253.4 L516.2,251.3 L516.1,251.4 L516.1,249.2 L517.0,248.8 L517.4,249.5 L517.0,250.8 L517.8,251.7 L517.6,255.0 L517.1,255.3 L518.1,257.1 L517.6,257.0 L517.8,259.1 L518.3,260.3 L517.9,262.5 L518.6,263.1 L518.1,265.0 L519.0,265.4 L518.5,267.5 L519.9,266.8 L519.6,265.4 L520.5,263.8 L520.7,261.4 L521.9,260.9 L522.0,260.0 L522.5,258.8 L523.8,260.6 L523.1,261.5 L524.5,262.5 L524.7,263.7 L525.4,264.8 L525.1,267.2 L525.3,267.5 L525.6,269.6 L526.0,270.6 L526.0,271.2 L526.1,268.9 L526.8,268.9 L527.2,268.2 L526.4,265.6 L526.6,265.8 L526.9,262.7 L528.1,262.7 L528.0,261.2 L528.2,260.9 L530.0,259.5 L530.5,258.8 L530.7,260.1 L532.0,260.6 L533.0,261.2 L534.0,263.3 L534.0,262.9 L533.4,265.0 L533.1,267.5 L533.8,266.9 L534.1,268.1 L535.1,270.1 L534.8,271.1 L535.0,272.5 L534.8,273.3 L536.6,275.8 L537.0,275.6 L537.0,277.5 L537.6,275.8 L539.0,276.2 L539.4,277.2 L539.6,278.7 L540.1,279.7 L540.8,280.5 L541.3,282.6 L541.0,283.8 L540.5,284.5 L541.5,286.0 L541.7,287.1 L541.5,289.5 L541.8,290.5 L542.7,291.5 L542.5,292.5 L543.1,292.3 L543.8,290.9 L544.5,288.8 L544.8,288.0 L546.5,287.5 L547.0,285.1 L547.7,283.9 L547.6,283.0 L548.5,282.7 L548.6,281.2 L548.5,280.0 L549.0,279.2 L548.7,276.8 L549.8,275.4 L550.1,274.3 L549.2,272.7 L550.4,273.6 L550.1,271.6 L550.5,270.0 L550.8,269.8 L552.1,266.6 L552.5,266.2 L552.2,268.0 L552.6,269.6 L553.3,269.3 L554.0,271.2 L554.3,269.5 L554.5,267.9 L555.3,267.1 L555.4,265.4 L555.6,266.2 L555.2,262.6 L555.4,262.9 L555.4,261.4 L556.0,260.0 L555.5,258.7 L556.6,257.3 L556.6,255.3 L557.0,254.1 L557.2,255.0 L557.4,252.6 L556.5,250.9 L557.3,250.0 L557.7,247.7 L557.1,248.4 L557.4,246.4 L556.8,244.1 L557.5,243.8 L557.3,243.5 L558.3,240.6 L558.5,238.8 L558.2,239.9 L557.9,238.6 L558.6,235.1 L558.2,234.9 L558.2,234.4 L558.2,233.2 L558.6,230.2 L559.0,230.0 L560.1,229.6 L561.0,231.2 L561.2,233.2 L561.4,233.7 L560.8,235.0 L561.0,236.6 L561.2,237.7 L561.7,238.4 L562.3,239.2 L561.7,242.4 L562.1,243.4 L562.5,243.8 L563.7,242.5 L563.3,240.2 L564.5,240.0 L565.2,240.3 L564.7,242.6 L564.3,243.7 L564.5,245.1 L565.1,245.9 L564.8,247.3 L564.9,247.8 L565.1,250.9 L565.6,252.2 L565.0,253.6 L565.9,254.5 L566.0,255.0 L566.0,256.3 L566.1,257.6 L566.1,258.9 L566.1,260.1 L566.1,261.4 L566.2,262.7 L566.2,264.0 L566.2,265.3 L566.3,266.6 L566.3,267.9 L566.3,269.1 L566.3,270.4 L566.4,271.7 L566.4,273.0 L566.4,274.3 L566.5,275.6 L566.5,276.9 L566.5,278.1 L566.5,279.4 L566.6,280.7 L566.6,282.0 L566.6,283.3 L566.7,284.6 L566.7,285.9 L566.7,287.1 L566.7,288.4 L566.8,289.7 L566.8,291.0 L566.8,292.3 L566.9,293.6 L566.9,294.9 L566.9,296.1 L566.9,297.4 L567.0,298.7 L567.0,300.0 L567.2,299.2 L566.8,298.1 L566.9,295.7 L566.8,294.7 L567.7,293.2 L568.3,291.5 L568.0,290.6 L568.1,290.7 L568.4,287.7 L567.9,287.7 L569.1,285.1 L568.5,285.0 L569.1,286.7 L569.7,287.1 L570.1,288.7 L570.0,290.0 L571.0,287.5 L571.5,287.3 L571.1,285.2 L571.2,285.6 L572.0,283.8 L572.5,281.6 L572.1,280.4 L572.1,279.3 L572.5,279.9 L573.7,278.2 L573.1,276.2 L573.7,276.0 L573.8,274.1 L573.2,272.8 L574.3,272.0 L574.0,270.0 L573.9,271.8 L574.8,271.7 L576.2,274.2 L576.0,275.0 L576.6,272.8 L576.9,273.6 L577.3,271.9 L577.4,270.8 L577.2,268.6 L577.8,268.2 L578.1,265.7 L578.5,265.1 L578.0,263.8 L579.0,261.5 L579.3,262.0 L578.5,260.8 L578.7,258.0 L579.4,256.8 L579.7,257.3 L580.0,255.0 L580.7,254.3 L580.6,253.2 L581.6,251.7 L581.5,250.0 L583.2,251.4 L583.5,251.2 L583.6,251.5 L584.2,254.6 L583.9,255.2 L584.9,257.0 L583.8,257.5 L584.1,257.8 L585.0,260.0 L585.7,258.5 L585.7,257.4 L585.5,255.5 L585.8,255.9 L586.4,253.2 L585.9,251.9 L587.1,251.1 L587.0,250.0 L587.7,252.0 L587.4,253.0 L588.5,253.8 L587.9,253.3 L588.3,250.7 L589.6,249.7 L588.6,249.7 L589.3,248.5 L589.2,246.2 L590.1,245.0 L590.3,243.0 L590.2,241.7 L589.9,240.0 L590.0,240.0 L590.8,241.7 L592.5,241.2 L593.7,242.6 L595.0,242.5 L595.5,243.4 L596.1,245.1 L597.5,246.2 L599.3,245.7 L600.0,245.0 L600.2,244.8 L601.3,242.9 L600.5,241.6 L601.5,240.0 L602.2,242.0 L603.0,242.1 L604.0,242.5 L604.4,240.9 L604.4,240.4 L605.1,238.7 L604.5,238.7 L604.2,237.1 L605.3,235.1 L605.1,234.4 L605.9,233.1 L605.9,230.1 L605.4,229.1 L606.5,229.7 L606.0,227.5 L605.6,226.5 L606.4,223.9 L606.3,224.4 L606.8,222.0 L607.1,220.7 L607.0,219.8 L607.8,219.1 L607.7,217.9 L607.2,217.4 L607.5,215.0 L608.0,214.2 L607.5,211.7 L608.2,212.1 L608.7,209.6 L607.9,208.8 L609.2,206.7 L609.2,205.4 L609.0,205.0 L609.7,202.6 L611.0,202.5 L611.1,201.0 L612.5,201.2 L611.7,198.3 L612.5,197.5 L613.6,198.0 L613.0,199.8 L613.1,200.7 L613.9,202.2 L614.5,203.8 L615.5,201.9 L614.6,202.3 L615.3,200.8 L615.8,199.4 L615.7,196.6 L616.6,196.2 L616.5,195.0 L616.8,194.1 L617.4,191.7 L617.0,191.9 L617.5,189.5 L617.5,190.8 L617.6,192.1 L617.6,193.3 L617.7,194.6 L617.8,195.9 L617.8,197.2 L617.9,198.4 L617.9,199.7 L618.0,201.0 L618.0,202.2 L618.0,203.5 L618.1,204.8 L618.1,206.1 L618.2,207.3 L618.2,208.6 L618.3,209.9 L618.4,211.2 L618.4,212.4 L618.5,213.7 L618.5,215.0 L618.8,213.2 L619.3,211.9 L619.8,210.1 L620.1,210.2 L619.7,209.8 L619.9,206.9 L620.5,206.2 L620.6,207.0 L622.0,207.5 L622.5,209.2 L622.2,210.8 L621.9,210.8 L622.8,213.7 L623.0,214.2 L623.3,214.7 L623.7,216.9 L623.0,217.2 L623.8,218.4 L623.5,220.0 L623.4,219.7 L624.2,217.6 L624.8,217.3 L624.3,214.6 L624.5,213.5 L625.5,212.5 L626.5,214.0 L627.5,213.8 L628.2,212.7 L628.2,211.4 L628.4,210.9 L629.5,209.6 L629.5,207.5 L629.4,206.7 L630.7,205.0 L631.3,204.7 L631.5,203.3 L631.5,201.2 L632.2,203.4 L631.9,204.3 L633.3,205.3 L633.5,206.2 L633.9,204.5 L635.0,205.0 L635.3,204.6 L635.0,201.8 L635.1,200.2 L636.0,201.2 L636.4,198.4 L636.4,196.4 L636.8,195.8 L636.5,195.0 L636.3,194.2 L637.0,192.2 L637.3,191.5 L638.5,190.5 L638.7,189.9 L638.1,188.6 L638.3,185.7 L639.0,185.0 L639.4,183.4 L639.2,182.7 L639.3,182.0 L640.0,180.0 L639.8,179.6 L640.8,177.6 L639.9,176.9 L640.0,175.0 L640.8,172.7 L641.3,173.1 L641.4,171.0 L641.5,170.0 L642.5,171.5 L643.5,172.5 L643.6,174.7 L645.2,175.8 L645.7,175.8 L645.5,177.5 L646.4,175.2 L645.9,174.1 L646.0,174.2 L646.6,172.4 L646.3,170.5 L646.6,169.5 L646.4,169.3 L647.1,167.3 L646.8,166.8 L647.5,165.0 L647.4,165.7 L648.3,168.0 L649.2,169.4 L649.5,171.0 L649.5,171.8 L649.5,172.5 L649.0,170.5 L649.0,170.9 L650.2,169.1 L649.6,167.1 L649.6,166.6 L651.0,164.5 L649.7,162.9 L650.3,163.5 L651.1,161.1 L650.2,159.0 L650.4,159.4 L651.0,157.5 L651.1,157.4 L651.8,155.6 L651.3,154.3 L650.8,151.2 L651.6,150.9 L651.2,148.9 L651.0,149.2 L652.1,147.9 L652.6,145.3 L652.3,143.9 L652.6,143.7 L651.7,140.3 L651.9,140.4 L652.2,137.6 L652.5,137.5 L652.6,136.2 L652.7,134.9 L652.8,133.5 L652.9,132.2 L652.9,130.9 L653.0,129.6 L653.1,128.2 L653.2,126.9 L653.3,125.6 L653.4,124.3 L653.5,122.9 L653.6,121.6 L653.6,120.3 L653.7,119.0 L653.8,117.6 L653.9,116.3 L654.0,115.0 L654.6,117.0 L654.2,116.4 L655.0,118.8 L653.9,119.6 L654.8,122.2 L654.7,122.8 L654.4,123.1 L655.6,124.7 L654.5,126.5 L654.7,126.7 L655.3,129.0 L655.5,130.0 L655.8,129.2 L655.6,126.3 L656.1,124.9 L655.9,124.4 L656.3,123.9 L655.7,122.4 L656.5,120.6 L655.8,120.4 L656.5,116.9 L656.1,117.9 L656.2,115.1 L657.1,114.8 L657.0,113.3 L656.2,110.3 L657.0,110.0 L657.9,112.0 L656.7,111.4 L657.2,114.8 L657.4,115.4 L658.6,116.6 L658.8,116.9 L657.9,117.5 L659.0,119.0 L659.5,121.8 L659.0,122.5 L658.7,122.0 L658.7,120.0 L658.8,119.5 L660.1,118.5 L658.9,117.1 L659.8,115.8 L659.9,114.0 L660.1,113.2 L659.5,110.1 L660.3,109.5 L660.2,107.5 L660.5,107.5 L661.0,105.1 L661.3,105.8 L660.9,102.8 L661.4,101.8 L661.2,100.3 L662.2,100.1 L661.4,97.7 L662.2,98.4 L662.5,95.3 L662.0,94.5 L662.7,92.9 L662.5,92.5 L663.1,92.4 L663.7,88.8 L663.1,87.8 L664.4,87.7 L664.5,86.2 L665.2,84.9 L665.7,84.0 L666.5,82.5 L666.8,84.8 L667.1,85.7 L667.4,87.1 L667.3,86.3 L667.3,89.6 L667.0,90.9 L666.8,92.4 L667.3,93.0 L667.1,93.3 L667.3,94.6 L667.1,96.1 L668.5,97.9 L668.5,99.4 L668.0,100.0 L668.8,102.5 L669.0,101.9 L668.5,103.5 L668.5,104.3 L669.5,106.2 L670.2,106.0 L669.5,104.3 L670.3,103.2 L670.5,101.0 L669.6,100.4 L670.0,98.6 L670.2,97.0 L671.3,94.7 L670.7,94.6 L670.9,94.0 L670.8,92.6 L671.4,91.4 L670.6,88.2 L671.0,88.6 L671.5,86.2 L671.5,85.0 L673.0,85.0 L673.5,87.5 L673.0,87.3 L673.9,89.2 L674.3,90.6 L673.7,90.6 L673.6,93.0 L674.1,93.1 L675.5,95.4 L675.0,96.2 L675.4,95.4 L675.6,94.2 L675.4,91.4 L675.2,90.0 L675.9,89.1 L675.8,88.7 L677.3,88.0 L676.4,86.9 L677.0,85.0 L676.8,82.8 L677.3,82.3 L678.1,81.1 L678.5,79.0 L679.1,78.4 L679.2,76.3 L679.0,76.2 L680.5,74.9 L681.0,75.0 L681.7,74.5 L681.6,71.9 L680.8,70.5 L682.3,69.1 L682.1,69.0 L682.2,66.7 L681.6,65.2 L683.1,64.7 L682.5,63.8 L682.9,65.2 L682.5,65.2 L682.3,68.4 L682.7,69.9 L683.2,70.6 L683.1,72.0 L683.4,72.2 L684.0,73.8 L684.1,71.5 L683.9,72.0 L684.0,69.7 L684.9,68.1 L684.1,66.8 L684.5,65.9 L685.0,64.9 L685.5,62.6 L685.3,63.3 L684.8,60.1 L685.2,59.0 L685.3,59.3 L685.5,57.5 L685.0,55.2 L685.7,54.0 L685.5,53.4 L685.4,51.1 L685.9,50.8 L686.9,49.7 L685.7,47.5 L686.9,47.0 L687.2,46.7 L687.3,43.2 L687.5,43.0 L686.6,40.7 L687.7,39.5 L686.6,38.3 L688.0,37.5 L687.5,36.2 L688.1,33.9 L687.9,33.3 L687.7,32.9 L688.2,30.3 L689.3,30.0 L688.4,27.5 L689.3,27.5 L688.6,26.2 L689.5,25.0 L690.0,26.3 L689.4,27.5 L690.1,29.1 L689.6,30.8 L690.9,31.9 L690.9,32.2 L691.2,33.0 L690.3,35.2 L691.5,35.2 L691.0,37.5 L691.1,38.8 L691.2,40.1 L691.2,41.4 L691.3,42.8 L691.4,44.1 L691.5,45.4 L691.6,46.7 L691.6,48.0 L691.7,49.3 L691.8,50.7 L691.9,52.0 L691.9,53.3 L692.0,54.6 L692.1,55.9 L692.2,57.2 L692.3,58.6 L692.3,59.9 L692.4,61.2 L692.5,62.5 L692.2,62.6 L692.6,64.1 L692.3,66.9 L693.0,68.6 L692.8,69.2 L692.3,71.1 L692.7,71.2 L693.2,73.6 L693.3,75.0 L693.6,74.3 L693.5,76.2 L693.6,74.9 L693.7,73.6 L693.8,72.3 L693.9,71.0 L693.9,69.6 L694.0,68.3 L694.1,67.0 L694.2,65.7 L694.3,64.3 L694.4,63.0 L694.5,61.7 L694.6,60.4 L694.6,59.0 L694.7,57.7 L694.8,56.4 L694.9,55.1 L695.0,53.8 L695.7,54.3 L696.1,56.1 L695.2,58.7 L695.5,58.5 L695.8,60.4 L695.5,60.9 L695.9,63.3 L695.9,64.0 L696.4,64.9 L697.0,66.2 L697.4,65.5 L697.1,63.1 L697.3,63.7 L697.7,60.3 L698.5,60.0 L698.7,61.5 L699.5,61.4 L698.7,62.9 L699.4,64.9 L699.4,67.2 L699.9,68.4 L700.6,68.2 L700.8,69.8 L699.6,72.3 L700.5,72.5 L700.0,72.5 L700.4,74.5 L701.6,77.2 L700.9,77.6 L701.6,79.5 L701.5,80.0 L700.8,80.6 L701.7,82.7 L702.1,84.7 L702.4,84.2 L701.2,87.2 L702.0,87.5 L702.3,85.5 L702.6,84.4 L702.1,83.4 L702.6,82.9 L702.1,81.9 L703.1,79.9 L703.3,79.5 L702.5,77.4 L703.6,76.8 L703.5,75.0 L704.1,73.0 L704.9,73.2 L704.2,71.1 L705.0,70.0 L705.9,70.5 L705.4,73.7 L706.4,73.1 L706.4,74.6 L706.5,76.9 L705.9,76.8 L706.3,78.2 L707.0,80.0 L706.6,80.3 L707.4,82.3 L707.2,84.0 L708.8,85.2 L708.2,86.8 L708.6,86.7 L709.0,88.8 L709.1,86.3 L709.5,85.4 L709.2,86.2 L709.9,84.6 L709.9,82.8 L710.1,82.4 L709.5,80.7 L709.8,78.1 L710.7,77.8 L710.9,77.2 L710.5,75.0 L710.8,73.0 L710.2,72.6 L711.4,70.7 L710.7,68.8 L711.0,69.2 L711.0,66.8 L711.5,66.8 L712.8,63.8 L711.7,64.8 L712.5,62.5 L713.4,60.4 L712.6,60.1 L712.8,58.5 L713.2,56.9 L712.7,55.2 L713.1,54.0 L714.0,54.2 L713.6,53.2 L714.5,50.9 L714.3,49.2 L714.5,48.8 L715.5,47.7 L714.6,45.4 L715.9,44.7 L716.0,43.8 L717.0,44.3 L717.8,47.0 L718.0,47.5 L718.1,46.5 L718.9,45.5 L720.0,43.8 L720.8,43.2 L720.2,40.2 L721.1,40.2 L720.7,38.0 L721.5,37.5 L721.9,35.3 L722.2,34.4 L721.9,33.6 L722.5,33.1 L722.0,31.8 L723.0,30.0 L722.7,30.7 L723.5,33.0 L723.6,34.8 L723.1,34.5 L723.9,35.7 L723.3,36.8 L724.4,39.6 L724.4,41.1 L724.7,40.8 L724.1,43.1 L724.5,43.8 L724.1,42.8 L724.5,40.1 L725.4,39.1 L726.3,39.7 L726.0,37.5 L726.1,38.0 L725.7,40.0 L726.4,40.9 L726.9,42.6 L727.1,42.8 L726.2,44.7 L726.9,45.6 L727.3,46.8 L726.9,48.7 L727.7,50.7 L727.3,51.1 L728.2,53.6 L727.9,52.8 L727.8,55.3 L728.0,56.2 L728.0,53.8 L729.5,54.8 L728.6,52.4 L729.5,51.2 L729.8,49.5 L729.2,49.4 L730.4,47.3 L729.5,46.0 L729.6,46.2 L729.7,43.2 L731.0,41.6 L730.1,40.2 L730.3,40.1 L731.0,38.8 L732.2,36.7 L731.8,36.9 L733.0,35.0 L733.3,33.3 L733.2,31.9 L734.9,30.3 L734.2,30.6 L735.0,28.8 L736.1,28.5 L736.0,27.4 L736.7,24.5 L737.0,23.8 L737.4,23.0 L738.4,20.3 L738.0,21.1 L739.0,18.8 L739.0,18.5 L740.0,16.0 L740.5,15.5 L741.5,14.5 L742.6,15.0 L742.8,16.8 L742.2,19.2 L742.9,19.1 L743.5,21.2 L743.7,23.3 L744.6,23.9 L743.7,25.7 L744.9,27.2 L745.0,27.5 L745.9,25.8 L746.0,25.8 L745.3,23.4 L745.7,22.1 L745.9,20.3 L745.9,21.0 L746.5,18.8 L746.8,20.3 L747.9,21.9 L747.3,23.5 L748.6,25.0 L748.5,25.0 L749.1,24.4 L749.6,21.9 L749.6,21.0 L750.2,19.1 L750.0,18.8 L750.3,19.6 L750.9,20.9 L751.2,23.4 L751.4,22.8 L751.7,25.6 L751.6,26.6 L751.5,27.5 L751.8,29.7 L753.5,30.0 L754.1,28.6 L754.3,28.2 L755.0,26.2 L755.8,28.4 L755.2,28.4 L755.6,29.0 L756.1,30.1 L757.1,31.8 L757.0,33.8 L756.7,33.9 L758.1,35.5 L758.1,37.3 L758.5,38.8 L759.2,41.1 L758.6,41.6 L759.7,42.4 L760.0,44.3 L759.3,45.9 L759.9,45.3 L760.0,47.5 L760.5,47.1 L760.8,45.0 L761.0,44.7 L761.5,42.5 L761.6,43.8 L761.7,45.1 L761.8,46.5 L761.8,47.8 L761.9,49.1 L762.0,50.4 L762.1,51.7 L762.2,53.1 L762.2,54.4 L762.3,55.7 L762.4,57.0 L762.5,58.3 L762.6,59.7 L762.7,61.0 L762.8,62.3 L762.8,63.6 L762.9,64.9 L763.0,66.2 L763.6,64.3 L763.6,63.4 L764.9,63.0 L764.0,62.3 L765.0,60.0 L764.5,59.0 L765.3,58.0 L765.6,55.2 L765.9,55.8 L766.5,53.4 L765.9,53.1 L767.0,50.5 L767.4,51.2 L767.0,48.8 L767.6,47.2 L768.6,47.3 L769.0,45.0 L768.8,45.8 L769.2,48.1 L769.3,48.9 L770.0,50.4 L769.7,52.4 L771.2,52.7 L771.2,53.0 L771.0,55.0 L771.9,56.4 L772.0,58.4 L771.7,59.8 L771.8,58.8 L772.5,61.2 L772.7,61.0 L773.5,59.9 L773.1,58.6 L773.3,55.4 L773.6,55.8 L773.5,54.0 L773.5,51.9 L774.0,51.2 L774.1,52.5 L774.4,52.7 L773.9,54.6 L775.2,56.9 L774.7,56.9 L775.4,57.9 L775.7,61.0 L775.3,61.5 L776.0,62.5 L777.1,63.7 L777.5,63.8 L778.0,63.0 L777.5,62.1 L778.7,58.9 L778.9,58.6 L777.8,56.4 L779.0,56.7 L778.2,54.9 L779.2,55.0 L778.9,53.2 L778.9,50.5 L779.5,50.0 L779.3,48.5 L780.3,47.0 L780.0,45.5 L780.2,44.2 L780.9,43.8 L781.5,42.5 L781.7,41.2 L782.7,41.2 L783.5,38.8 L783.8,41.1 L784.1,40.5 L784.6,41.6 L784.3,42.7 L785.5,46.2 L785.5,46.2 L786.4,46.5 L787.5,47.5 L788.1,48.4 L789.1,49.7 L789.5,51.2 L790.0,52.8 L791.5,52.5 L791.9,52.5 L792.5,55.6 L792.0,56.6 L793.1,57.3 L792.6,58.2 L793.0,60.0 L793.2,61.7 L793.6,63.6 L792.8,63.4 L794.0,65.7 L793.8,66.7 L793.5,68.6 L793.9,68.5 L793.5,69.0 L794.7,72.0 L793.5,72.1 L794.3,73.7 L794.5,75.0 L794.7,77.2 L795.1,77.6 L796.3,79.1 L796.1,79.6 L796.5,81.2 L797.0,82.8 L798.3,83.2 L798.5,85.0 L799.1,83.5 L800.0,82.5 L800.0,84.8 L800.5,84.4 L800.4,87.1 L800.3,88.0 L800.4,88.0 L800.6,90.8 L801.5,91.2 L801.2,91.8 L801.3,93.2 L802.5,95.6 L803.0,97.4 L802.6,98.6 L802.2,99.8 L803.0,100.0 L803.0,100.5 L803.5,103.4 L803.1,102.7 L803.9,105.6 L803.6,107.4 L802.8,106.4 L803.0,107.6 L804.0,110.3 L803.2,110.4 L803.4,112.8 L804.2,114.9 L804.0,115.0 L803.9,117.5 L804.2,117.4 L804.0,118.3 L805.2,121.6 L805.0,120.9 L804.3,122.1 L804.7,124.9 L804.4,125.7 L805.5,125.8 L805.2,129.1 L805.6,129.5 L806.2,131.3 L805.5,132.1 L806.5,134.6 L806.0,135.0 L806.8,133.9 L805.8,131.7 L806.3,131.7 L805.9,130.8 L807.3,128.8 L806.3,128.2 L807.0,126.7 L807.4,125.6 L807.4,124.9 L808.3,123.6 L808.0,120.8 L808.0,120.0 L808.2,118.2 L809.4,118.2 L809.6,117.1 L810.2,115.5 L809.6,114.4 L809.9,112.8 L810.1,112.1 L811.0,110.0 L811.4,108.2 L812.5,106.5 L812.9,106.9 L812.2,105.7 L813.3,104.8 L813.7,102.3 L814.0,101.2 L815.1,99.0 L815.2,97.8 L814.9,96.5 L816.2,96.1 L816.0,95.0 L817.3,93.1 L818.0,92.5 L818.7,91.6 L818.1,90.0 L819.5,88.0 L819.5,87.5 L820.0,85.7 L819.9,86.0 L821.1,85.0 L820.6,82.7 L821.0,81.2 L821.7,83.1 L821.3,84.7 L821.4,86.1 L821.7,85.3 L822.3,86.6 L822.4,87.6 L823.0,90.1 L822.5,91.2 L823.1,91.6 L823.3,93.4 L823.0,95.8 L822.9,96.2 L823.3,98.4 L824.8,97.6 L824.5,100.0 L824.9,98.7 L825.8,98.1 L825.8,97.3 L826.5,95.0 L826.4,92.8 L827.8,91.6 L827.2,91.3 L827.9,89.2 L828.5,88.8 L829.3,89.9 L829.2,90.6 L829.6,91.8 L829.7,94.0 L830.0,95.7 L829.6,96.3 L830.1,97.4 L829.1,99.8 L830.3,100.5 L830.0,101.2 L830.6,101.9 L830.4,104.7 L831.4,106.3 L830.5,107.1 L831.3,107.7 L831.0,108.4 L831.7,110.6 L832.0,112.0 L832.2,112.8 L833.2,114.9 L833.8,114.6 L834.9,116.2 L835.5,118.9 L834.9,119.1 L836.0,120.0 L837.1,118.5 L836.9,117.1 L836.5,115.7 L837.0,114.7 L838.2,114.2 L839.1,113.3 L838.6,112.7 L839.4,110.5 L840.1,109.6 L840.0,108.0 L840.2,106.9 L840.5,106.5 L840.8,105.1 L840.9,101.4 L842.0,101.2 L842.7,99.3 L843.2,97.8 L844.3,97.9 L844.7,97.3 L845.0,95.0 L846.1,96.7 L846.1,96.3 L845.5,98.6 L847.3,99.5 L847.0,101.2 L847.4,101.2 L847.5,104.6 L848.1,105.6 L847.6,105.3 L848.2,108.1 L848.4,109.5 L849.0,110.6 L849.7,110.4 L850.0,112.0 L851.6,112.6 L852.0,112.6 L853.1,115.8 L852.8,116.0 L853.9,115.4 L854.9,117.5 L856.0,118.0 L857.3,118.0 L857.9,115.9 L858.0,113.6 L858.7,113.3 L858.8,113.0 L859.2,109.9 L859.7,108.7 L860.9,109.2 L860.9,107.2 L862.0,106.0 L862.9,105.0 L863.4,103.7 L863.5,101.3 L865.0,101.2 L865.4,99.3 L866.4,98.1 L867.0,96.9 L867.0,96.2 L867.4,97.0 L868.8,97.5 L870.0,98.8 L871.0,97.0 L871.5,97.5 L871.8,95.6 L872.5,94.5 L874.4,95.6 L875.0,96.2 L875.8,94.5 L877.5,95.0 L877.4,95.8 L877.9,97.9 L878.9,98.3 L879.5,100.0 L880.2,99.8 L880.4,96.6 L881.5,96.2 L881.6,94.6 L882.9,94.3 L882.6,91.7 L882.4,90.3 L883.5,90.0 L884.9,89.5 L884.7,88.6 L886.0,87.5 L886.6,86.9 L888.5,86.2 L889.3,84.0 L890.5,83.8 L891.2,83.0 L891.1,80.4 L891.7,79.8 L891.9,77.7 L892.0,77.5 L892.9,77.5 L892.1,79.7 L892.3,80.2 L893.3,83.7 L893.0,83.2 L893.5,85.0 L894.6,83.5 L895.0,83.8 L896.0,82.5 L896.6,82.9 L896.7,85.1 L898.0,86.2 L900.0,87.9 L900.5,87.5 L901.1,86.9 L903.0,86.2 L904.2,84.9 L905.5,85.0 L906.4,86.2 L907.3,87.0 L907.5,88.8 L908.6,90.8 L908.3,90.4 L908.7,91.6 L909.4,94.2 L909.5,95.0 L909.9,94.9 L909.4,93.0 L910.8,90.3 L910.4,88.9 L911.1,89.3 L911.0,88.0 L911.5,86.2 L912.1,85.9 L912.8,85.8 L914.0,83.8 L914.9,81.7 L915.4,82.6 L917.0,81.2 L918.4,82.8 L918.1,84.7 L919.5,85.0 L921.3,84.7 L922.5,86.2 L923.5,86.7 L924.1,85.1 L926.0,86.2 L926.0,88.4 L927.2,88.3 L927.4,90.7 L927.5,91.5 L928.0,92.9 L927.5,93.8 L929.4,93.3 L930.0,92.5 L930.4,93.8 L931.6,94.6 L932.5,96.2 L933.6,95.7 L935.0,95.0 L935.6,95.6 L935.7,97.5 L936.5,98.5 L937.0,100.0 L937.9,98.0 L938.4,96.9 L939.0,96.2 L939.9,95.5 L940.4,93.8 L940.5,92.5 L940.5,94.8 L941.3,94.7 L941.4,96.0 L942.4,98.3 L942.5,98.8 L943.5,100.6 L944.5,101.2 L944.3,99.9 L944.7,98.3 L945.0,98.1 L945.7,95.5 L945.2,95.7 L946.1,94.2 L946.3,93.0 L945.9,90.2 L946.5,90.0 L947.1,88.0 L948.9,88.4 L949.0,87.5 L949.6,87.4 L950.1,84.3 L949.8,82.8 L950.8,83.1 L950.6,80.9 L951.0,80.0 L951.2,78.7 L952.3,78.5 L952.5,76.2 L953.3,78.4 L953.0,78.6 L953.1,81.2 L953.2,80.4 L954.0,82.5 L954.2,82.3 L955.5,79.6 L956.0,79.7 L956.0,77.5 L956.4,75.5 L957.4,74.7 L956.9,74.8 L958.0,72.5 L958.4,71.0 L959.1,69.4 L959.5,68.8 L959.3,69.7 L960.3,70.0 L960.8,73.2 L961.5,73.8 L962.1,73.4 L963.4,71.3 L964.0,71.2 L964.5,72.3 L966.5,72.5 L967.0,70.7 L966.8,70.9 L968.2,68.1 L968.0,67.5 L968.4,66.4 L968.3,63.8 L968.6,64.1 L969.4,62.5 L969.5,61.2 L969.3,61.8 L970.0,63.5 L970.5,66.0 L970.5,67.5 L971.5,67.5 L971.6,69.6 L972.1,70.2 L972.8,70.1 L973.5,72.5 L974.9,72.7 L975.5,71.2 L975.4,70.7 L976.0,70.0 L975.7,67.2 L976.2,66.6 L977.3,65.9 L977.3,63.5 L977.5,62.5 L978.3,60.3 L977.8,60.6 L978.4,60.0 L978.2,57.4 L978.7,55.0 L979.5,55.0 L979.3,52.7 L980.1,52.3 L980.7,50.7 L981.4,50.0 L981.5,48.8 L982.4,46.7 L982.0,46.2 L982.0,45.9 L982.0,44.7 L982.4,42.1 L983.0,41.4 L982.7,39.0 L984.0,38.4 L983.5,37.5 L983.2,36.6 L984.1,34.6 L984.1,34.6 L984.5,32.3 L985.0,31.2 L986.2,29.5 L985.9,27.6 L986.5,27.0 L987.0,28.7 L986.9,29.4 L986.8,31.7 L987.4,33.2 L987.6,34.3 L988.0,35.0 L987.5,35.5 L989.1,38.0 L988.8,38.7 L988.7,39.2 L988.4,41.6 L989.4,41.9 L989.5,42.8 L989.5,45.0 L989.9,42.9 L990.0,42.0 L990.3,40.3 L990.5,40.3 L990.2,38.3 L991.0,37.5 L992.3,38.9 L993.0,40.0 L993.7,39.4 L994.1,36.8 L994.5,36.2 L994.7,38.3 L995.1,39.4 L995.0,39.9 L996.2,42.1 L996.0,41.5 L996.0,43.8 L996.7,43.8 L997.7,47.4 L997.8,46.9 L998.0,48.8 L999.2,46.7 L999.8,46.3 L1000.0,45.0 L1000.3,46.6 L1002.0,46.2 L1002.3,48.3 L1003.1,48.8 L1003.7,49.3 L1004.2,50.8 L1004.0,52.5 L1003.8,50.8 L1004.3,48.9 L1005.7,47.8 L1006.0,47.5 L1005.6,45.7 L1005.9,46.1 L1007.0,44.7 L1007.2,42.4 L1007.1,40.7 L1007.4,40.8 L1007.2,38.1 L1006.4,38.6 L1007.2,36.5 L1007.8,34.1 L1007.7,33.7 L1007.5,32.5 L1008.9,31.4 L1009.5,30.5 L1010.0,32.4 L1011.5,32.0 L1011.7,33.7 L1013.0,33.5 L1013.3,34.9 L1013.5,36.2 L1014.1,36.8 L1015.5,38.8 L1017.2,39.0 L1017.5,40.0 L1018.2,41.3 L1018.1,43.1 L1019.5,43.8 L1020.2,45.9 L1019.9,45.5 L1020.2,48.1 L1020.9,48.5 L1021.0,50.0 L1021.4,47.9 L1022.3,47.4 L1022.0,47.0 L1021.9,45.6 L1022.4,44.5 L1023.0,42.5 L1022.9,40.7 L1024.2,40.0 L1024.5,38.8 L1024.6,40.2 L1024.7,41.1 L1024.7,43.2 L1025.3,44.6 L1026.0,45.0 L1026.3,46.5 L1026.6,46.6 L1027.1,48.2 L1027.4,50.7 L1027.3,52.0 L1027.2,52.9 L1027.5,53.8 L1028.3,54.2 L1027.2,56.0 L1027.9,56.6 L1027.6,59.7 L1028.0,59.1 L1027.8,61.4 L1028.0,62.4 L1028.6,63.6 L1028.7,65.8 L1028.1,67.3 L1029.0,67.5 L1028.8,65.1 L1029.9,65.2 L1029.8,63.0 L1030.4,62.0 L1030.6,60.6 L1030.5,60.0 L1031.4,59.1 L1032.0,57.5 L1032.1,58.7 L1031.9,60.4 L1033.2,60.4 L1033.3,63.1 L1033.5,63.8 L1033.4,63.3 L1035.1,60.1 L1035.0,60.0 L1034.9,60.2 L1035.2,61.5 L1035.9,63.1 L1035.9,64.9 L1036.5,66.2 L1036.6,68.2 L1037.4,67.8 L1037.0,68.8 L1037.4,70.3 L1038.0,72.5 L1038.7,72.0 L1039.5,69.3 L1038.5,69.4 L1039.5,68.6 L1040.0,66.2 L1040.8,66.4 L1042.0,67.5 L1041.7,67.4 L1042.6,64.9 L1042.8,64.4 L1043.7,62.4 L1043.5,61.2 L1043.4,62.3 L1044.8,63.5 L1044.7,65.1 L1044.8,66.4 L1044.8,67.6 L1045.5,68.8 L1046.7,66.4 L1046.6,67.2 L1047.5,65.0 L1048.7,62.5 L1048.7,62.8 L1049.5,61.2 L1049.5,60.0 L1049.2,60.8 L1050.3,63.1 L1049.8,64.1 L1050.7,65.4 L1050.0,66.1 L1051.0,67.5 L1051.0,66.5 L1051.2,64.1 L1051.9,63.2 L1052.3,62.0 L1052.1,62.0 L1051.7,60.6 L1052.5,58.8 L1052.2,61.1 L1052.5,61.8 L1053.3,61.7 L1053.7,63.8 L1054.0,64.1 L1054.5,66.2 L1054.7,64.5 L1055.5,63.5 L1054.9,61.8 L1055.8,60.8 L1055.5,60.8 L1055.2,59.4 L1055.2,56.5 L1055.0,56.1 L1056.4,54.3 L1056.0,53.8 L1056.1,53.2 L1056.0,50.4 L1056.6,49.8 L1057.4,49.7 L1056.5,47.7 L1057.0,45.1 L1057.2,46.0 L1057.5,43.8 L1057.6,45.2 L1058.6,45.2 L1059.3,46.5 L1059.0,48.8 L1058.9,48.0 L1058.7,45.9 L1059.1,44.9 L1059.1,42.9 L1059.7,41.5 L1059.7,40.5 L1060.5,40.0 L1060.8,37.8 L1061.6,37.3 L1061.0,35.6 L1062.2,33.9 L1062.3,32.7 L1062.9,32.3 L1062.5,31.2 L1063.6,30.9 L1064.5,28.8 L1064.9,28.3 L1066.5,30.0 L1067.0,31.5 L1067.2,31.9 L1067.0,33.0 L1067.1,34.5 L1067.5,35.7 L1067.2,37.9 L1067.0,39.5 L1067.8,39.3 L1068.0,41.2 L1068.1,40.0 L1069.3,39.3 L1070.0,37.5 L1070.1,38.5 L1071.1,39.4 L1071.5,42.2 L1071.7,43.6 L1070.9,44.5 L1071.5,45.0 L1072.0,43.0 L1072.8,42.9 L1072.9,41.4 L1072.1,40.9 L1073.0,38.8 L1073.3,37.5 L1074.5,37.5 L1075.0,38.0 L1075.0,40.5 L1074.8,41.7 L1075.1,42.4 L1076.0,43.8 L1077.2,43.0 L1078.0,41.2 L1078.3,41.7 L1080.0,43.8 L1080.8,44.7 L1080.2,45.9 L1080.7,48.1 L1080.8,48.5 L1080.8,50.0 L1080.4,52.4 L1081.7,53.2 L1081.8,53.7 L1081.7,54.4 L1081.7,56.8 L1081.5,57.5 L1082.9,59.0 L1083.0,58.8 L1084.6,56.9 L1085.0,56.2 L1086.5,56.2 L1087.2,57.4 L1086.8,58.4 L1087.8,60.9 L1088.2,61.7 L1088.0,62.5 L1087.7,62.9 L1088.4,64.3 L1088.2,65.3 L1088.1,68.0 L1088.3,69.6 L1088.6,70.9 L1088.8,70.7 L1089.0,71.3 L1089.3,73.4 L1089.5,75.0 L1089.1,77.2 L1090.1,76.3 L1091.3,78.1 L1091.0,80.0 L1090.9,80.1 L1091.0,83.0 L1092.0,83.8 L1091.8,84.5 L1092.5,86.2 L1093.6,84.7 L1094.0,84.7 L1093.1,83.4 L1093.4,81.8 L1094.5,80.0 L1095.7,79.9 L1096.0,78.8 L1096.4,80.8 L1096.1,81.3 L1096.5,82.2 L1096.7,84.3 L1097.5,85.0 L1097.8,86.9 L1098.1,87.7 L1098.8,89.5 L1098.5,89.6 L1099.2,90.9 L1098.2,92.1 L1099.0,93.8 L1099.6,96.1 L1099.7,96.7 L1100.4,98.2 L1099.9,98.7 L1100.6,99.5 L1100.5,101.2 L1100.3,100.3 L1101.7,98.1 L1101.9,98.5 L1102.0,96.2 L1102.2,94.7 L1103.5,95.0 L1103.7,93.3 L1104.7,93.7 L1104.2,92.0 L1104.7,89.2 L1105.5,87.9 L1105.0,87.5 L1105.4,88.0 L1107.0,88.8 L1106.3,87.4 L1107.0,87.2 L1107.1,85.6 L1107.7,83.6 L1107.0,81.6 L1107.4,80.5 L1107.7,79.4 L1107.3,78.3 L1108.4,76.0 L1107.5,74.1 L1107.2,72.9 L1107.7,73.5 L1108.2,72.5 L1108.0,70.0 L1108.7,69.0 L1108.5,66.3 L1108.4,65.7 L1108.9,63.9 L1109.0,63.4 L1109.1,62.3 L1108.7,61.8 L1109.5,60.0 L1111.0,60.2 L1111.5,60.0 L1111.9,59.6 L1113.5,58.8 L1114.4,61.2 L1114.6,60.1 L1115.2,62.9 L1115.0,63.8 L1115.1,63.6 L1116.3,62.2 L1115.8,60.2 L1116.4,58.2 L1117.0,57.5 L1117.9,56.5 L1118.0,55.0 L1117.9,56.4 L1118.9,57.7 L1119.0,58.9 L1119.2,58.8 L1118.6,61.4 L1119.1,63.7 L1119.1,63.7 L1119.0,65.0 L1119.5,66.3 L1120.0,68.6 L1119.3,68.3 L1120.9,68.9 L1121.1,70.1 L1121.0,72.5 L1121.5,72.0 L1121.2,69.7 L1121.5,69.3 L1122.2,67.8 L1122.5,66.2 L1122.7,65.2 L1124.2,64.4 L1124.7,61.9 L1124.5,61.2 L1124.8,59.7 L1124.8,59.5 L1124.9,57.7 L1126.0,57.4 L1125.9,55.1 L1125.3,53.2 L1126.2,53.6 L1126.3,51.2 L1126.3,50.7 L1127.2,48.7 L1127.9,47.2 L1128.6,44.8 L1127.8,43.7 L1127.6,42.7 L1128.5,42.1 L1127.7,41.3 L1128.4,38.3 L1128.9,38.7 L1128.1,37.7 L1129.1,34.6 L1128.7,33.9 L1128.5,33.8 L1130.2,30.8 L1130.2,30.7 L1131.4,32.6 L1131.8,33.1 L1132.1,35.2 L1132.8,35.3 L1132.7,38.1 L1132.1,38.8 L1132.7,40.5 L1132.6,40.9 L1132.9,39.0 L1132.6,38.3 L1132.6,37.8 L1133.9,34.9 L1133.8,34.6 L1133.1,33.5 L1133.8,31.5 L1134.3,29.7 L1133.5,28.3 L1134.6,27.5 L1134.8,25.4 L1133.9,24.5 L1134.6,23.6 L1135.3,21.5 L1134.3,21.8 L1134.5,20.3 L1134.6,18.1 L1135.6,18.4 L1135.4,16.1 L1135.7,15.0 L1135.1,15.8 L1135.6,18.2 L1136.4,19.4 L1136.3,20.4 L1135.8,20.8 L1136.2,21.8 L1137.0,22.8 L1136.5,24.2 L1136.9,26.0 L1137.6,25.1 L1137.2,23.2 L1138.0,23.3 L1137.5,21.1 L1138.2,19.1 L1137.5,17.4 L1138.0,17.9 L1137.7,15.8 L1139.1,14.6 L1138.5,13.4 L1138.9,15.4 L1139.7,15.7 L1140.9,19.7" fill="none" stroke="#000" stroke-width="2.6" stroke-linejoin="round" stroke-linecap="round"/>
<line x1="82" x2="1141.0" y1="138.5" y2="138.5" stroke="#666" stroke-width="1" stroke-dasharray="3,3"/>
<line x1="1141.5" x2="1141.5" y1="12" y2="727" stroke="#666" stroke-width="1" stroke-dasharray="3,3"/>
<circle cx="1140.5" cy="111.2" r="4" fill="#5a75dc"/>
<circle cx="1141" cy="20" r="3.6" fill="#000"/>
</svg>
<div class="tip">
<div class="d">Thursday, Aug 28 2025 UTC</div>
<i class="b1"></i><div class="r r1">ETH: Percent of Supply in Smart Contracts: <b>41.353%</b></div>
<i class="b2"></i><div class="r r2">ETH: Price [USD]: <b>$4,513.07</b></div>
</div>
</body></html>
